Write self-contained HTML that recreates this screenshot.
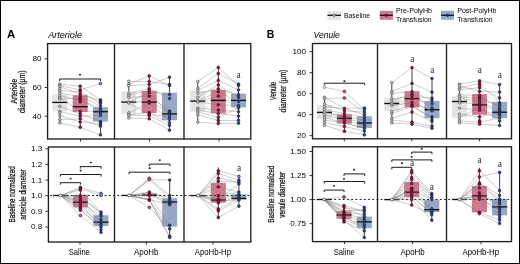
<!DOCTYPE html>
<html><head><meta charset="utf-8"><style>
html,body{margin:0;padding:0;background:#fff;}
body{width:520px;height:264px;overflow:hidden;}
svg{display:block;font-family:"Liberation Sans", sans-serif;will-change:transform;}
</style></head><body>
<svg width="520" height="264" viewBox="0 0 520 264">
<rect x="0" y="0" width="520" height="264" fill="#fff"/>
<line x1="44.6" y1="58.8" x2="47.6" y2="58.8" stroke="#1e1e1e" stroke-width="0.9"/>
<text x="41.6" y="61.25" font-size="8.1" text-anchor="end">80</text>
<line x1="44.6" y1="87.5" x2="47.6" y2="87.5" stroke="#1e1e1e" stroke-width="0.9"/>
<text x="41.6" y="89.95" font-size="8.1" text-anchor="end">60</text>
<line x1="44.6" y1="116.2" x2="47.6" y2="116.2" stroke="#1e1e1e" stroke-width="0.9"/>
<text x="41.6" y="118.65" font-size="8.1" text-anchor="end">40</text>
<line x1="45.4" y1="148.78" x2="48.4" y2="148.78" stroke="#1e1e1e" stroke-width="0.9"/>
<text x="42.3" y="151.23" font-size="8.1" text-anchor="end">1.3</text>
<line x1="45.4" y1="164.42" x2="48.4" y2="164.42" stroke="#1e1e1e" stroke-width="0.9"/>
<text x="42.3" y="166.87" font-size="8.1" text-anchor="end">1.2</text>
<line x1="45.4" y1="180.06" x2="48.4" y2="180.06" stroke="#1e1e1e" stroke-width="0.9"/>
<text x="42.3" y="182.51" font-size="8.1" text-anchor="end">1.1</text>
<line x1="45.4" y1="195.7" x2="48.4" y2="195.7" stroke="#1e1e1e" stroke-width="0.9"/>
<text x="42.3" y="198.15" font-size="8.1" text-anchor="end">1.0</text>
<line x1="45.4" y1="211.34" x2="48.4" y2="211.34" stroke="#1e1e1e" stroke-width="0.9"/>
<text x="42.3" y="213.79" font-size="8.1" text-anchor="end">0.9</text>
<line x1="45.4" y1="226.98" x2="48.4" y2="226.98" stroke="#1e1e1e" stroke-width="0.9"/>
<text x="42.3" y="229.43" font-size="8.1" text-anchor="end">0.8</text>
<line x1="309.5" y1="51.7" x2="312.5" y2="51.7" stroke="#1e1e1e" stroke-width="0.9"/>
<text x="305.9" y="54.45" font-size="8.1" text-anchor="end">100</text>
<line x1="309.5" y1="72.68" x2="312.5" y2="72.68" stroke="#1e1e1e" stroke-width="0.9"/>
<text x="305.9" y="75.43" font-size="8.1" text-anchor="end">80</text>
<line x1="309.5" y1="93.66" x2="312.5" y2="93.66" stroke="#1e1e1e" stroke-width="0.9"/>
<text x="305.9" y="96.41" font-size="8.1" text-anchor="end">60</text>
<line x1="309.5" y1="114.64" x2="312.5" y2="114.64" stroke="#1e1e1e" stroke-width="0.9"/>
<text x="305.9" y="117.39" font-size="8.1" text-anchor="end">40</text>
<line x1="309.5" y1="135.62" x2="312.5" y2="135.62" stroke="#1e1e1e" stroke-width="0.9"/>
<text x="305.9" y="138.37" font-size="8.1" text-anchor="end">20</text>
<line x1="309.5" y1="151.5" x2="312.5" y2="151.5" stroke="#1e1e1e" stroke-width="0.9"/>
<text x="305.9" y="154.25" font-size="8.1" text-anchor="end">1.50</text>
<line x1="309.5" y1="175.55" x2="312.5" y2="175.55" stroke="#1e1e1e" stroke-width="0.9"/>
<text x="305.9" y="178.3" font-size="8.1" text-anchor="end">1.25</text>
<line x1="309.5" y1="199.6" x2="312.5" y2="199.6" stroke="#1e1e1e" stroke-width="0.9"/>
<text x="305.9" y="202.35" font-size="8.1" text-anchor="end">1.00</text>
<line x1="309.5" y1="223.65" x2="312.5" y2="223.65" stroke="#1e1e1e" stroke-width="0.9"/>
<text x="305.9" y="226.4" font-size="8.1" text-anchor="end">0.75</text>
<line x1="80.5" y1="139" x2="80.5" y2="141.6" stroke="#1e1e1e" stroke-width="0.9"/>
<line x1="149.5" y1="139" x2="149.5" y2="141.6" stroke="#1e1e1e" stroke-width="0.9"/>
<line x1="219" y1="139" x2="219" y2="141.6" stroke="#1e1e1e" stroke-width="0.9"/>
<line x1="80" y1="242" x2="80" y2="244.6" stroke="#1e1e1e" stroke-width="0.9"/>
<line x1="146.25" y1="242" x2="146.25" y2="244.6" stroke="#1e1e1e" stroke-width="0.9"/>
<line x1="213" y1="242" x2="213" y2="244.6" stroke="#1e1e1e" stroke-width="0.9"/>
<line x1="344.3" y1="138.8" x2="344.3" y2="141.4" stroke="#1e1e1e" stroke-width="0.9"/>
<line x1="411.8" y1="138.8" x2="411.8" y2="141.4" stroke="#1e1e1e" stroke-width="0.9"/>
<line x1="479.6" y1="138.8" x2="479.6" y2="141.4" stroke="#1e1e1e" stroke-width="0.9"/>
<line x1="344.5" y1="241.6" x2="344.5" y2="244.2" stroke="#1e1e1e" stroke-width="0.9"/>
<line x1="412.5" y1="241.6" x2="412.5" y2="244.2" stroke="#1e1e1e" stroke-width="0.9"/>
<line x1="481" y1="241.6" x2="481" y2="244.2" stroke="#1e1e1e" stroke-width="0.9"/>
<text x="79.3" y="255.4" font-size="8.4" text-anchor="middle" textLength="21" lengthAdjust="spacingAndGlyphs">Saline</text>
<text x="146.2" y="255.4" font-size="8.4" text-anchor="middle" textLength="24.4" lengthAdjust="spacingAndGlyphs">ApoHb</text>
<text x="212.9" y="255.4" font-size="8.4" text-anchor="middle" textLength="36.4" lengthAdjust="spacingAndGlyphs">ApoHb-Hp</text>
<text x="344.3" y="255.4" font-size="8.4" text-anchor="middle" textLength="21" lengthAdjust="spacingAndGlyphs">Saline</text>
<text x="412.6" y="255.4" font-size="8.4" text-anchor="middle" textLength="24.3" lengthAdjust="spacingAndGlyphs">ApoHb</text>
<text x="480.8" y="255.4" font-size="8.4" text-anchor="middle" textLength="36.5" lengthAdjust="spacingAndGlyphs">ApoHb-Hp</text>
<text x="7" y="38" font-size="11.5" font-weight="bold" textLength="8.2" lengthAdjust="spacingAndGlyphs">A</text>
<text x="266.7" y="37.8" font-size="11.5" font-weight="bold" textLength="7.6" lengthAdjust="spacingAndGlyphs">B</text>
<text x="48.2" y="38.4" font-size="9.4" font-style="italic" textLength="33.8" lengthAdjust="spacingAndGlyphs">Arteriole</text>
<text x="313.5" y="38.2" font-size="9.2" font-style="italic" textLength="26.3" lengthAdjust="spacingAndGlyphs">Venule</text>
<text x="16.9" y="91.1" font-size="8.8" text-anchor="middle" textLength="24.6" lengthAdjust="spacingAndGlyphs" transform="rotate(-90 16.9 91.1)" stroke="#1e1e1e" stroke-width="0.25">Arteriole</text>
<text x="25.3" y="91.8" font-size="8.8" text-anchor="middle" textLength="42.6" lengthAdjust="spacingAndGlyphs" transform="rotate(-90 25.3 91.8)" stroke="#1e1e1e" stroke-width="0.25">diameter (µm)</text>
<text x="14.6" y="194.4" font-size="8.8" text-anchor="middle" textLength="56" lengthAdjust="spacingAndGlyphs" transform="rotate(-90 14.6 194.4)" stroke="#1e1e1e" stroke-width="0.25">Baseline normalized</text>
<text x="25.6" y="194.5" font-size="8.8" text-anchor="middle" textLength="50.3" lengthAdjust="spacingAndGlyphs" transform="rotate(-90 25.6 194.5)" stroke="#1e1e1e" stroke-width="0.25">arteriole diameter</text>
<text x="276.5" y="91.1" font-size="8.8" text-anchor="middle" textLength="18.4" lengthAdjust="spacingAndGlyphs" transform="rotate(-90 276.5 91.1)" stroke="#1e1e1e" stroke-width="0.25">Venule</text>
<text x="286.4" y="91" font-size="8.8" text-anchor="middle" textLength="42.8" lengthAdjust="spacingAndGlyphs" transform="rotate(-90 286.4 91)" stroke="#1e1e1e" stroke-width="0.25">diameter (µm)</text>
<text x="274.4" y="194.25" font-size="8.8" text-anchor="middle" textLength="56.8" lengthAdjust="spacingAndGlyphs" transform="rotate(-90 274.4 194.25)" stroke="#1e1e1e" stroke-width="0.25">Baseline normalized</text>
<text x="285" y="194.75" font-size="8.8" text-anchor="middle" textLength="45.8" lengthAdjust="spacingAndGlyphs" transform="rotate(-90 285 194.75)" stroke="#1e1e1e" stroke-width="0.25">venule diameter</text>
<rect x="327.5" y="11" width="13.5" height="8.8" fill="#e4e4e4"/>
<line x1="327.5" y1="15.3" x2="341" y2="15.3" stroke="#111" stroke-width="1.3"/>
<circle cx="334.2" cy="15.3" r="1.3" fill="#9a9a9a" stroke="#555" stroke-width="0.5"/>
<text x="344" y="17.5" font-size="7.2" textLength="26" lengthAdjust="spacingAndGlyphs">Baseline</text>
<rect x="379.8" y="10.8" width="13.1" height="9" fill="#cd7990"/>
<line x1="379.8" y1="15.3" x2="392.9" y2="15.3" stroke="#111" stroke-width="1.3"/>
<circle cx="386.3" cy="15.3" r="1.3" fill="#8a0f33" stroke="#3a0010" stroke-width="0.5"/>
<text x="395.9" y="13.4" font-size="7.2" textLength="36" lengthAdjust="spacingAndGlyphs">Pre-PolyHb</text>
<text x="395.9" y="22.2" font-size="7.2" textLength="35.7" lengthAdjust="spacingAndGlyphs">Transfusion</text>
<rect x="441" y="10.8" width="13" height="9" fill="#98a8c4"/>
<line x1="441" y1="15.3" x2="454" y2="15.3" stroke="#111" stroke-width="1.3"/>
<circle cx="447.5" cy="15.3" r="1.3" fill="#1c3a6e" stroke="#0a1a3a" stroke-width="0.5"/>
<text x="457.2" y="13.4" font-size="7.2" textLength="39.3" lengthAdjust="spacingAndGlyphs">Post-PolyHb</text>
<text x="457.2" y="22.2" font-size="7.2" textLength="35.3" lengthAdjust="spacingAndGlyphs">Transfusion</text>
<rect x="52.3" y="94.2" width="15" height="17.3" fill="#e4e4e4"/>
<rect x="72.7" y="95.3" width="15" height="16.6" fill="#cd7990"/>
<rect x="93" y="107.2" width="15" height="14.4" fill="#98a8c4"/>
<rect x="121.3" y="91.4" width="15" height="22.5" fill="#e4e4e4"/>
<rect x="141.7" y="91" width="15" height="22" fill="#cd7990"/>
<rect x="162" y="92.7" width="15" height="27.5" fill="#98a8c4"/>
<rect x="190.3" y="91" width="15" height="20.5" fill="#e4e4e4"/>
<rect x="210.8" y="90" width="15" height="23.4" fill="#cd7990"/>
<rect x="231" y="93.7" width="15" height="13.8" fill="#98a8c4"/>
<rect x="317" y="105.2" width="15" height="13.7" fill="#e4e4e4"/>
<rect x="336.9" y="114.2" width="15" height="9.4" fill="#cd7990"/>
<rect x="356.9" y="116.2" width="15" height="11.9" fill="#98a8c4"/>
<rect x="384.3" y="98" width="15" height="12.8" fill="#e4e4e4"/>
<rect x="404.5" y="91.2" width="15" height="16.2" fill="#cd7990"/>
<rect x="424.5" y="101" width="15" height="17.2" fill="#98a8c4"/>
<rect x="452" y="95.7" width="15" height="21.8" fill="#e4e4e4"/>
<rect x="472.1" y="94.1" width="15" height="20.7" fill="#cd7990"/>
<rect x="492.1" y="101.9" width="15" height="16.2" fill="#98a8c4"/>
<rect x="72.9" y="194.8" width="15" height="12.6" fill="#cd7990"/>
<rect x="93.5" y="215.2" width="15" height="10.8" fill="#98a8c4"/>
<rect x="141.8" y="193.5" width="15" height="2.7" fill="#cd7990"/>
<rect x="162.2" y="198.2" width="15" height="28.4" fill="#98a8c4"/>
<rect x="210.8" y="182.9" width="15" height="19.9" fill="#cd7990"/>
<rect x="231.4" y="194.3" width="15" height="5.4" fill="#98a8c4"/>
<rect x="336.5" y="211.2" width="15" height="7.6" fill="#cd7990"/>
<rect x="356.8" y="216.6" width="15" height="11.6" fill="#98a8c4"/>
<rect x="404.2" y="182.1" width="15" height="14.8" fill="#cd7990"/>
<rect x="424.3" y="199.7" width="15" height="12.5" fill="#98a8c4"/>
<rect x="471.9" y="186" width="15" height="26.3" fill="#cd7990"/>
<rect x="492.1" y="198.8" width="15" height="16.6" fill="#98a8c4"/>
<line x1="50" y1="195.5" x2="250.3" y2="195.5" stroke="#1a1a1a" stroke-width="1" stroke-dasharray="2 2.2"/>
<line x1="313.25" y1="199.5" x2="511" y2="199.5" stroke="#1a1a1a" stroke-width="1" stroke-dasharray="1.8 2.42"/>
<line x1="59.8" y1="84.1" x2="59.8" y2="94.2" stroke="#2a2a2a" stroke-width="0.9"/>
<line x1="59.8" y1="111.5" x2="59.8" y2="123" stroke="#2a2a2a" stroke-width="0.9"/>
<line x1="80.2" y1="86.2" x2="80.2" y2="95.3" stroke="#2a2a2a" stroke-width="0.9"/>
<line x1="80.2" y1="111.9" x2="80.2" y2="127.6" stroke="#2a2a2a" stroke-width="0.9"/>
<line x1="100.5" y1="99.9" x2="100.5" y2="107.2" stroke="#2a2a2a" stroke-width="0.9"/>
<line x1="100.5" y1="121.6" x2="100.5" y2="134.9" stroke="#2a2a2a" stroke-width="0.9"/>
<line x1="52.3" y1="102.4" x2="67.3" y2="102.4" stroke="#111" stroke-width="1.35"/>
<line x1="72.7" y1="106.7" x2="87.7" y2="106.7" stroke="#111" stroke-width="1.35"/>
<line x1="93" y1="111.7" x2="108" y2="111.7" stroke="#111" stroke-width="1.35"/>
<polyline points="59.8,84.1 80.2,86.2 100.5,99.9" fill="none" stroke="#7c7c7c" stroke-width="0.45" opacity="0.85"/>
<polyline points="59.8,85.6 80.2,89.9 100.5,83.5" fill="none" stroke="#7c7c7c" stroke-width="0.45" opacity="0.85"/>
<polyline points="59.8,86.5 80.2,94.2 100.5,100.8" fill="none" stroke="#7c7c7c" stroke-width="0.45" opacity="0.85"/>
<polyline points="59.8,90.9 80.2,91.5 100.5,103.4" fill="none" stroke="#7c7c7c" stroke-width="0.45" opacity="0.85"/>
<polyline points="59.8,93.1 80.2,96.2 100.5,106.1" fill="none" stroke="#7c7c7c" stroke-width="0.45" opacity="0.85"/>
<polyline points="59.8,95.6 80.2,99.9 100.5,108.8" fill="none" stroke="#7c7c7c" stroke-width="0.45" opacity="0.85"/>
<polyline points="59.8,97.6 80.2,111.5 100.5,111" fill="none" stroke="#7c7c7c" stroke-width="0.45" opacity="0.85"/>
<polyline points="59.8,98.9 80.2,98.3 100.5,112.8" fill="none" stroke="#7c7c7c" stroke-width="0.45" opacity="0.85"/>
<polyline points="59.8,106.3 80.2,113.9 100.5,121.6" fill="none" stroke="#7c7c7c" stroke-width="0.45" opacity="0.85"/>
<polyline points="59.8,111.5 80.2,116.2 100.5,115.5" fill="none" stroke="#7c7c7c" stroke-width="0.45" opacity="0.85"/>
<polyline points="59.8,115.5 80.2,122 100.5,124.2" fill="none" stroke="#7c7c7c" stroke-width="0.45" opacity="0.85"/>
<polyline points="59.8,119.5 80.2,118.9 100.5,126.2" fill="none" stroke="#7c7c7c" stroke-width="0.45" opacity="0.85"/>
<polyline points="59.8,122.9 80.2,127.3 100.5,134.9" fill="none" stroke="#7c7c7c" stroke-width="0.45" opacity="0.85"/>
<circle cx="59.8" cy="84.1" r="1.35" fill="#c4c4c4" stroke="#404040" stroke-width="0.55"/>
<circle cx="59.8" cy="85.6" r="1.35" fill="#c4c4c4" stroke="#404040" stroke-width="0.55"/>
<circle cx="59.8" cy="86.5" r="1.35" fill="#c4c4c4" stroke="#404040" stroke-width="0.55"/>
<circle cx="59.8" cy="88.6" r="1.35" fill="#c4c4c4" stroke="#404040" stroke-width="0.55"/>
<circle cx="59.8" cy="90.9" r="1.35" fill="#c4c4c4" stroke="#404040" stroke-width="0.55"/>
<circle cx="59.8" cy="93.1" r="1.35" fill="#c4c4c4" stroke="#404040" stroke-width="0.55"/>
<circle cx="59.8" cy="95.6" r="1.35" fill="#c4c4c4" stroke="#404040" stroke-width="0.55"/>
<circle cx="59.8" cy="97.6" r="1.35" fill="#c4c4c4" stroke="#404040" stroke-width="0.55"/>
<circle cx="59.8" cy="98.9" r="1.35" fill="#c4c4c4" stroke="#404040" stroke-width="0.55"/>
<circle cx="59.8" cy="106.3" r="1.35" fill="#c4c4c4" stroke="#404040" stroke-width="0.55"/>
<circle cx="59.8" cy="111.5" r="1.35" fill="#c4c4c4" stroke="#404040" stroke-width="0.55"/>
<circle cx="59.8" cy="112.5" r="1.35" fill="#c4c4c4" stroke="#404040" stroke-width="0.55"/>
<circle cx="59.8" cy="115.5" r="1.35" fill="#c4c4c4" stroke="#404040" stroke-width="0.55"/>
<circle cx="59.8" cy="119.5" r="1.35" fill="#c4c4c4" stroke="#404040" stroke-width="0.55"/>
<circle cx="59.8" cy="122.9" r="1.35" fill="#c4c4c4" stroke="#404040" stroke-width="0.55"/>
<circle cx="80.2" cy="86.2" r="1.35" fill="#a8103a" stroke="#2e0410" stroke-width="0.6"/>
<circle cx="80.2" cy="89.9" r="1.35" fill="#a8103a" stroke="#2e0410" stroke-width="0.6"/>
<circle cx="80.2" cy="91.5" r="1.35" fill="#a8103a" stroke="#2e0410" stroke-width="0.6"/>
<circle cx="80.2" cy="94.2" r="1.35" fill="#a8103a" stroke="#2e0410" stroke-width="0.6"/>
<circle cx="80.2" cy="96.2" r="1.35" fill="#a8103a" stroke="#2e0410" stroke-width="0.6"/>
<circle cx="80.2" cy="98.3" r="1.35" fill="#a8103a" stroke="#2e0410" stroke-width="0.6"/>
<circle cx="80.2" cy="99.9" r="1.35" fill="#a8103a" stroke="#2e0410" stroke-width="0.6"/>
<circle cx="80.2" cy="101.8" r="1.35" fill="#a8103a" stroke="#2e0410" stroke-width="0.6"/>
<circle cx="80.2" cy="111.5" r="1.35" fill="#a8103a" stroke="#2e0410" stroke-width="0.6"/>
<circle cx="80.2" cy="113.9" r="1.35" fill="#a8103a" stroke="#2e0410" stroke-width="0.6"/>
<circle cx="80.2" cy="116.2" r="1.35" fill="#a8103a" stroke="#2e0410" stroke-width="0.6"/>
<circle cx="80.2" cy="118.9" r="1.35" fill="#a8103a" stroke="#2e0410" stroke-width="0.6"/>
<circle cx="80.2" cy="122" r="1.35" fill="#a8103a" stroke="#2e0410" stroke-width="0.6"/>
<circle cx="80.2" cy="127.3" r="1.35" fill="#a8103a" stroke="#2e0410" stroke-width="0.6"/>
<circle cx="100.5" cy="99.9" r="1.35" fill="#2c4a85" stroke="#0e1830" stroke-width="0.6"/>
<circle cx="100.5" cy="100.8" r="1.35" fill="#2c4a85" stroke="#0e1830" stroke-width="0.6"/>
<circle cx="100.5" cy="102.3" r="1.35" fill="#2c4a85" stroke="#0e1830" stroke-width="0.6"/>
<circle cx="100.5" cy="103.4" r="1.35" fill="#2c4a85" stroke="#0e1830" stroke-width="0.6"/>
<circle cx="100.5" cy="106.1" r="1.35" fill="#2c4a85" stroke="#0e1830" stroke-width="0.6"/>
<circle cx="100.5" cy="108.8" r="1.35" fill="#2c4a85" stroke="#0e1830" stroke-width="0.6"/>
<circle cx="100.5" cy="111" r="1.35" fill="#2c4a85" stroke="#0e1830" stroke-width="0.6"/>
<circle cx="100.5" cy="112.8" r="1.35" fill="#2c4a85" stroke="#0e1830" stroke-width="0.6"/>
<circle cx="100.5" cy="115.5" r="1.35" fill="#2c4a85" stroke="#0e1830" stroke-width="0.6"/>
<circle cx="100.5" cy="121.6" r="1.35" fill="#2c4a85" stroke="#0e1830" stroke-width="0.6"/>
<circle cx="100.5" cy="122.6" r="1.35" fill="#2c4a85" stroke="#0e1830" stroke-width="0.6"/>
<circle cx="100.5" cy="124.2" r="1.35" fill="#2c4a85" stroke="#0e1830" stroke-width="0.6"/>
<circle cx="100.5" cy="126.2" r="1.35" fill="#2c4a85" stroke="#0e1830" stroke-width="0.6"/>
<circle cx="100.5" cy="134.9" r="1.35" fill="#2c4a85" stroke="#0e1830" stroke-width="0.6"/>
<circle cx="100.5" cy="83.5" r="1.4" fill="#8298c6" stroke="#1a2a55" stroke-width="0.7"/>
<line x1="128.8" y1="81.3" x2="128.8" y2="91.4" stroke="#2a2a2a" stroke-width="0.9"/>
<line x1="128.8" y1="113.9" x2="128.8" y2="117.8" stroke="#2a2a2a" stroke-width="0.9"/>
<line x1="149.2" y1="75.9" x2="149.2" y2="91" stroke="#2a2a2a" stroke-width="0.9"/>
<line x1="149.2" y1="113" x2="149.2" y2="118.9" stroke="#2a2a2a" stroke-width="0.9"/>
<line x1="169.5" y1="77.2" x2="169.5" y2="92.7" stroke="#2a2a2a" stroke-width="0.9"/>
<line x1="169.5" y1="120.2" x2="169.5" y2="130.2" stroke="#2a2a2a" stroke-width="0.9"/>
<line x1="121.3" y1="102.1" x2="136.3" y2="102.1" stroke="#111" stroke-width="1.35"/>
<line x1="141.7" y1="102.1" x2="156.7" y2="102.1" stroke="#111" stroke-width="1.35"/>
<line x1="162" y1="113.9" x2="177" y2="113.9" stroke="#111" stroke-width="1.35"/>
<polyline points="128.8,81.3 149.2,81.5 169.5,84.6" fill="none" stroke="#7c7c7c" stroke-width="0.45" opacity="0.85"/>
<polyline points="128.8,84.2 149.2,75.9 169.5,85.6" fill="none" stroke="#7c7c7c" stroke-width="0.45" opacity="0.85"/>
<polyline points="128.8,85.6 149.2,84.6 169.5,77.2" fill="none" stroke="#7c7c7c" stroke-width="0.45" opacity="0.85"/>
<polyline points="128.8,93.4 149.2,88.7 169.5,98.5" fill="none" stroke="#7c7c7c" stroke-width="0.45" opacity="0.85"/>
<polyline points="128.8,95.4 149.2,90.4 169.5,94.5" fill="none" stroke="#7c7c7c" stroke-width="0.45" opacity="0.85"/>
<polyline points="128.8,97.4 149.2,96.1 169.5,111.1" fill="none" stroke="#7c7c7c" stroke-width="0.45" opacity="0.85"/>
<polyline points="128.8,102.1 149.2,92.7 169.5,114.1" fill="none" stroke="#7c7c7c" stroke-width="0.45" opacity="0.85"/>
<polyline points="128.8,102.1 149.2,101.5 169.5,112.5" fill="none" stroke="#7c7c7c" stroke-width="0.45" opacity="0.85"/>
<polyline points="128.8,103 149.2,114.3 169.5,116.8" fill="none" stroke="#7c7c7c" stroke-width="0.45" opacity="0.85"/>
<polyline points="128.8,112.9 149.2,103.1 169.5,119.5" fill="none" stroke="#7c7c7c" stroke-width="0.45" opacity="0.85"/>
<polyline points="128.8,114.9 149.2,112.7 169.5,122.8" fill="none" stroke="#7c7c7c" stroke-width="0.45" opacity="0.85"/>
<polyline points="128.8,115.2 149.2,115.7 169.5,125.5" fill="none" stroke="#7c7c7c" stroke-width="0.45" opacity="0.85"/>
<polyline points="128.8,117.8 149.2,118.8 169.5,130.2" fill="none" stroke="#7c7c7c" stroke-width="0.45" opacity="0.85"/>
<circle cx="128.8" cy="81.3" r="1.35" fill="#c4c4c4" stroke="#404040" stroke-width="0.55"/>
<circle cx="128.8" cy="84.2" r="1.35" fill="#c4c4c4" stroke="#404040" stroke-width="0.55"/>
<circle cx="128.8" cy="85.6" r="1.35" fill="#c4c4c4" stroke="#404040" stroke-width="0.55"/>
<circle cx="128.8" cy="93.4" r="1.35" fill="#c4c4c4" stroke="#404040" stroke-width="0.55"/>
<circle cx="128.8" cy="95.4" r="1.35" fill="#c4c4c4" stroke="#404040" stroke-width="0.55"/>
<circle cx="128.8" cy="97.4" r="1.35" fill="#c4c4c4" stroke="#404040" stroke-width="0.55"/>
<circle cx="128.8" cy="102.1" r="1.35" fill="#c4c4c4" stroke="#404040" stroke-width="0.55"/>
<circle cx="128.8" cy="103" r="1.35" fill="#c4c4c4" stroke="#404040" stroke-width="0.55"/>
<circle cx="128.8" cy="112.9" r="1.35" fill="#c4c4c4" stroke="#404040" stroke-width="0.55"/>
<circle cx="128.8" cy="114.9" r="1.35" fill="#c4c4c4" stroke="#404040" stroke-width="0.55"/>
<circle cx="128.8" cy="115.2" r="1.35" fill="#c4c4c4" stroke="#404040" stroke-width="0.55"/>
<circle cx="128.8" cy="117.8" r="1.35" fill="#c4c4c4" stroke="#404040" stroke-width="0.55"/>
<circle cx="149.2" cy="75.9" r="1.35" fill="#a8103a" stroke="#2e0410" stroke-width="0.6"/>
<circle cx="149.2" cy="81.5" r="1.35" fill="#a8103a" stroke="#2e0410" stroke-width="0.6"/>
<circle cx="149.2" cy="84.6" r="1.35" fill="#a8103a" stroke="#2e0410" stroke-width="0.6"/>
<circle cx="149.2" cy="88.7" r="1.35" fill="#a8103a" stroke="#2e0410" stroke-width="0.6"/>
<circle cx="149.2" cy="90.4" r="1.35" fill="#a8103a" stroke="#2e0410" stroke-width="0.6"/>
<circle cx="149.2" cy="92.7" r="1.35" fill="#a8103a" stroke="#2e0410" stroke-width="0.6"/>
<circle cx="149.2" cy="96.1" r="1.35" fill="#a8103a" stroke="#2e0410" stroke-width="0.6"/>
<circle cx="149.2" cy="101.5" r="1.35" fill="#a8103a" stroke="#2e0410" stroke-width="0.6"/>
<circle cx="149.2" cy="103.1" r="1.35" fill="#a8103a" stroke="#2e0410" stroke-width="0.6"/>
<circle cx="149.2" cy="112.7" r="1.35" fill="#a8103a" stroke="#2e0410" stroke-width="0.6"/>
<circle cx="149.2" cy="114.3" r="1.35" fill="#a8103a" stroke="#2e0410" stroke-width="0.6"/>
<circle cx="149.2" cy="115.7" r="1.35" fill="#a8103a" stroke="#2e0410" stroke-width="0.6"/>
<circle cx="149.2" cy="118.8" r="1.35" fill="#a8103a" stroke="#2e0410" stroke-width="0.6"/>
<circle cx="169.5" cy="77.2" r="1.35" fill="#2c4a85" stroke="#0e1830" stroke-width="0.6"/>
<circle cx="169.5" cy="84.6" r="1.35" fill="#2c4a85" stroke="#0e1830" stroke-width="0.6"/>
<circle cx="169.5" cy="85.6" r="1.35" fill="#2c4a85" stroke="#0e1830" stroke-width="0.6"/>
<circle cx="169.5" cy="94.5" r="1.35" fill="#2c4a85" stroke="#0e1830" stroke-width="0.6"/>
<circle cx="169.5" cy="98.5" r="1.35" fill="#2c4a85" stroke="#0e1830" stroke-width="0.6"/>
<circle cx="169.5" cy="111.1" r="1.35" fill="#2c4a85" stroke="#0e1830" stroke-width="0.6"/>
<circle cx="169.5" cy="112.5" r="1.35" fill="#2c4a85" stroke="#0e1830" stroke-width="0.6"/>
<circle cx="169.5" cy="114.1" r="1.35" fill="#2c4a85" stroke="#0e1830" stroke-width="0.6"/>
<circle cx="169.5" cy="116.8" r="1.35" fill="#2c4a85" stroke="#0e1830" stroke-width="0.6"/>
<circle cx="169.5" cy="119.5" r="1.35" fill="#2c4a85" stroke="#0e1830" stroke-width="0.6"/>
<circle cx="169.5" cy="122.8" r="1.35" fill="#2c4a85" stroke="#0e1830" stroke-width="0.6"/>
<circle cx="169.5" cy="125.5" r="1.35" fill="#2c4a85" stroke="#0e1830" stroke-width="0.6"/>
<circle cx="169.5" cy="130.2" r="1.35" fill="#2c4a85" stroke="#0e1830" stroke-width="0.6"/>
<line x1="197.8" y1="81.5" x2="197.8" y2="91" stroke="#2a2a2a" stroke-width="0.9"/>
<line x1="197.8" y1="111.5" x2="197.8" y2="122.2" stroke="#2a2a2a" stroke-width="0.9"/>
<line x1="218.3" y1="67.4" x2="218.3" y2="90" stroke="#2a2a2a" stroke-width="0.9"/>
<line x1="218.3" y1="113.4" x2="218.3" y2="123.5" stroke="#2a2a2a" stroke-width="0.9"/>
<line x1="238.5" y1="84" x2="238.5" y2="93.7" stroke="#2a2a2a" stroke-width="0.9"/>
<line x1="238.5" y1="107.5" x2="238.5" y2="123.2" stroke="#2a2a2a" stroke-width="0.9"/>
<line x1="190.3" y1="101.1" x2="205.3" y2="101.1" stroke="#111" stroke-width="1.35"/>
<line x1="210.8" y1="100.4" x2="225.8" y2="100.4" stroke="#111" stroke-width="1.35"/>
<line x1="231" y1="100.4" x2="246" y2="100.4" stroke="#111" stroke-width="1.35"/>
<polyline points="197.8,81.5 218.3,67.4 238.5,85.6" fill="none" stroke="#7c7c7c" stroke-width="0.45" opacity="0.85"/>
<polyline points="197.8,88.3 218.3,73.5 238.5,84" fill="none" stroke="#7c7c7c" stroke-width="0.45" opacity="0.85"/>
<polyline points="197.8,90.3 218.3,80.5 238.5,90" fill="none" stroke="#7c7c7c" stroke-width="0.45" opacity="0.85"/>
<polyline points="197.8,93.4 218.3,88.9 238.5,94.7" fill="none" stroke="#7c7c7c" stroke-width="0.45" opacity="0.85"/>
<polyline points="197.8,97.4 218.3,84.9 238.5,97.4" fill="none" stroke="#7c7c7c" stroke-width="0.45" opacity="0.85"/>
<polyline points="197.8,100.8 218.3,91.8 238.5,101.5" fill="none" stroke="#7c7c7c" stroke-width="0.45" opacity="0.85"/>
<polyline points="197.8,102.1 218.3,104.8 238.5,105.5" fill="none" stroke="#7c7c7c" stroke-width="0.45" opacity="0.85"/>
<polyline points="197.8,102.1 218.3,96.1 238.5,105.5" fill="none" stroke="#7c7c7c" stroke-width="0.45" opacity="0.85"/>
<polyline points="197.8,108.1 218.3,110.1 238.5,111.7" fill="none" stroke="#7c7c7c" stroke-width="0.45" opacity="0.85"/>
<polyline points="197.8,110.1 218.3,113.6 238.5,116.1" fill="none" stroke="#7c7c7c" stroke-width="0.45" opacity="0.85"/>
<polyline points="197.8,112.1 218.3,117.4 238.5,107.9" fill="none" stroke="#7c7c7c" stroke-width="0.45" opacity="0.85"/>
<polyline points="197.8,114.5 218.3,120.5 238.5,120.3" fill="none" stroke="#7c7c7c" stroke-width="0.45" opacity="0.85"/>
<polyline points="197.8,122.2 218.3,123.5 238.5,123.2" fill="none" stroke="#7c7c7c" stroke-width="0.45" opacity="0.85"/>
<circle cx="197.8" cy="81.5" r="1.35" fill="#c4c4c4" stroke="#404040" stroke-width="0.55"/>
<circle cx="197.8" cy="88.3" r="1.35" fill="#c4c4c4" stroke="#404040" stroke-width="0.55"/>
<circle cx="197.8" cy="90.3" r="1.35" fill="#c4c4c4" stroke="#404040" stroke-width="0.55"/>
<circle cx="197.8" cy="93.4" r="1.35" fill="#c4c4c4" stroke="#404040" stroke-width="0.55"/>
<circle cx="197.8" cy="97.4" r="1.35" fill="#c4c4c4" stroke="#404040" stroke-width="0.55"/>
<circle cx="197.8" cy="100.8" r="1.35" fill="#c4c4c4" stroke="#404040" stroke-width="0.55"/>
<circle cx="197.8" cy="102.1" r="1.35" fill="#c4c4c4" stroke="#404040" stroke-width="0.55"/>
<circle cx="197.8" cy="108.1" r="1.35" fill="#c4c4c4" stroke="#404040" stroke-width="0.55"/>
<circle cx="197.8" cy="110.1" r="1.35" fill="#c4c4c4" stroke="#404040" stroke-width="0.55"/>
<circle cx="197.8" cy="112.1" r="1.35" fill="#c4c4c4" stroke="#404040" stroke-width="0.55"/>
<circle cx="197.8" cy="114.5" r="1.35" fill="#c4c4c4" stroke="#404040" stroke-width="0.55"/>
<circle cx="197.8" cy="122.2" r="1.35" fill="#c4c4c4" stroke="#404040" stroke-width="0.55"/>
<circle cx="218.3" cy="67.4" r="1.35" fill="#a8103a" stroke="#2e0410" stroke-width="0.6"/>
<circle cx="218.3" cy="73.5" r="1.35" fill="#a8103a" stroke="#2e0410" stroke-width="0.6"/>
<circle cx="218.3" cy="80.5" r="1.35" fill="#a8103a" stroke="#2e0410" stroke-width="0.6"/>
<circle cx="218.3" cy="84.9" r="1.35" fill="#a8103a" stroke="#2e0410" stroke-width="0.6"/>
<circle cx="218.3" cy="88.9" r="1.35" fill="#a8103a" stroke="#2e0410" stroke-width="0.6"/>
<circle cx="218.3" cy="91.8" r="1.35" fill="#a8103a" stroke="#2e0410" stroke-width="0.6"/>
<circle cx="218.3" cy="96.1" r="1.35" fill="#a8103a" stroke="#2e0410" stroke-width="0.6"/>
<circle cx="218.3" cy="104.8" r="1.35" fill="#a8103a" stroke="#2e0410" stroke-width="0.6"/>
<circle cx="218.3" cy="110.1" r="1.35" fill="#a8103a" stroke="#2e0410" stroke-width="0.6"/>
<circle cx="218.3" cy="113.6" r="1.35" fill="#a8103a" stroke="#2e0410" stroke-width="0.6"/>
<circle cx="218.3" cy="117.4" r="1.35" fill="#a8103a" stroke="#2e0410" stroke-width="0.6"/>
<circle cx="218.3" cy="120.5" r="1.35" fill="#a8103a" stroke="#2e0410" stroke-width="0.6"/>
<circle cx="218.3" cy="123.5" r="1.35" fill="#a8103a" stroke="#2e0410" stroke-width="0.6"/>
<circle cx="238.5" cy="84" r="1.35" fill="#2c4a85" stroke="#0e1830" stroke-width="0.6"/>
<circle cx="238.5" cy="85.6" r="1.35" fill="#2c4a85" stroke="#0e1830" stroke-width="0.6"/>
<circle cx="238.5" cy="90" r="1.35" fill="#2c4a85" stroke="#0e1830" stroke-width="0.6"/>
<circle cx="238.5" cy="94.7" r="1.35" fill="#2c4a85" stroke="#0e1830" stroke-width="0.6"/>
<circle cx="238.5" cy="97.4" r="1.35" fill="#2c4a85" stroke="#0e1830" stroke-width="0.6"/>
<circle cx="238.5" cy="101.5" r="1.35" fill="#2c4a85" stroke="#0e1830" stroke-width="0.6"/>
<circle cx="238.5" cy="105.5" r="1.35" fill="#2c4a85" stroke="#0e1830" stroke-width="0.6"/>
<circle cx="238.5" cy="107.9" r="1.35" fill="#2c4a85" stroke="#0e1830" stroke-width="0.6"/>
<circle cx="238.5" cy="111.7" r="1.35" fill="#2c4a85" stroke="#0e1830" stroke-width="0.6"/>
<circle cx="238.5" cy="116.1" r="1.35" fill="#2c4a85" stroke="#0e1830" stroke-width="0.6"/>
<circle cx="238.5" cy="120.3" r="1.35" fill="#2c4a85" stroke="#0e1830" stroke-width="0.6"/>
<circle cx="238.5" cy="123.2" r="1.35" fill="#2c4a85" stroke="#0e1830" stroke-width="0.6"/>
<line x1="324.5" y1="97.3" x2="324.5" y2="105.2" stroke="#2a2a2a" stroke-width="0.9"/>
<line x1="324.5" y1="118.9" x2="324.5" y2="125.5" stroke="#2a2a2a" stroke-width="0.9"/>
<line x1="344.4" y1="108.4" x2="344.4" y2="114.2" stroke="#2a2a2a" stroke-width="0.9"/>
<line x1="344.4" y1="123.6" x2="344.4" y2="131.3" stroke="#2a2a2a" stroke-width="0.9"/>
<line x1="364.4" y1="108" x2="364.4" y2="116.2" stroke="#2a2a2a" stroke-width="0.9"/>
<line x1="364.4" y1="128.1" x2="364.4" y2="134.9" stroke="#2a2a2a" stroke-width="0.9"/>
<line x1="317" y1="112.4" x2="332" y2="112.4" stroke="#111" stroke-width="1.35"/>
<line x1="336.9" y1="118.3" x2="351.9" y2="118.3" stroke="#111" stroke-width="1.35"/>
<line x1="356.9" y1="123" x2="371.9" y2="123" stroke="#111" stroke-width="1.35"/>
<polyline points="324.5,87.2 344.4,91.5 364.4,109.5" fill="none" stroke="#7c7c7c" stroke-width="0.45" opacity="0.85"/>
<polyline points="324.5,97.3 344.4,108.4 364.4,108" fill="none" stroke="#7c7c7c" stroke-width="0.45" opacity="0.85"/>
<polyline points="324.5,98.5 344.4,98 364.4,112.2" fill="none" stroke="#7c7c7c" stroke-width="0.45" opacity="0.85"/>
<polyline points="324.5,104.1 344.4,110.8 364.4,112.2" fill="none" stroke="#7c7c7c" stroke-width="0.45" opacity="0.85"/>
<polyline points="324.5,106.8 344.4,108.4 364.4,114.8" fill="none" stroke="#7c7c7c" stroke-width="0.45" opacity="0.85"/>
<polyline points="324.5,109.5 344.4,113.5 364.4,117.5" fill="none" stroke="#7c7c7c" stroke-width="0.45" opacity="0.85"/>
<polyline points="324.5,112.2 344.4,116.2 364.4,120.2" fill="none" stroke="#7c7c7c" stroke-width="0.45" opacity="0.85"/>
<polyline points="324.5,112.2 344.4,118.2 364.4,122.9" fill="none" stroke="#7c7c7c" stroke-width="0.45" opacity="0.85"/>
<polyline points="324.5,114.8 344.4,120.2 364.4,125.6" fill="none" stroke="#7c7c7c" stroke-width="0.45" opacity="0.85"/>
<polyline points="324.5,117.5 344.4,122.9 364.4,128.3" fill="none" stroke="#7c7c7c" stroke-width="0.45" opacity="0.85"/>
<polyline points="324.5,120 344.4,122.9 364.4,128.3" fill="none" stroke="#7c7c7c" stroke-width="0.45" opacity="0.85"/>
<polyline points="324.5,122.5 344.4,126.5 364.4,131" fill="none" stroke="#7c7c7c" stroke-width="0.45" opacity="0.85"/>
<polyline points="324.5,125.5 344.4,131.3 364.4,134.9" fill="none" stroke="#7c7c7c" stroke-width="0.45" opacity="0.85"/>
<circle cx="324.5" cy="97.3" r="1.35" fill="#c4c4c4" stroke="#404040" stroke-width="0.55"/>
<circle cx="324.5" cy="98.5" r="1.35" fill="#c4c4c4" stroke="#404040" stroke-width="0.55"/>
<circle cx="324.5" cy="104.1" r="1.35" fill="#c4c4c4" stroke="#404040" stroke-width="0.55"/>
<circle cx="324.5" cy="106.8" r="1.35" fill="#c4c4c4" stroke="#404040" stroke-width="0.55"/>
<circle cx="324.5" cy="109.5" r="1.35" fill="#c4c4c4" stroke="#404040" stroke-width="0.55"/>
<circle cx="324.5" cy="112.2" r="1.35" fill="#c4c4c4" stroke="#404040" stroke-width="0.55"/>
<circle cx="324.5" cy="114.8" r="1.35" fill="#c4c4c4" stroke="#404040" stroke-width="0.55"/>
<circle cx="324.5" cy="117.5" r="1.35" fill="#c4c4c4" stroke="#404040" stroke-width="0.55"/>
<circle cx="324.5" cy="120" r="1.35" fill="#c4c4c4" stroke="#404040" stroke-width="0.55"/>
<circle cx="324.5" cy="122.5" r="1.35" fill="#c4c4c4" stroke="#404040" stroke-width="0.55"/>
<circle cx="324.5" cy="125.5" r="1.35" fill="#c4c4c4" stroke="#404040" stroke-width="0.55"/>
<circle cx="324.5" cy="87.2" r="1.4" fill="#efefef" stroke="#555" stroke-width="0.55"/>
<circle cx="344.4" cy="108.4" r="1.35" fill="#a8103a" stroke="#2e0410" stroke-width="0.6"/>
<circle cx="344.4" cy="110.8" r="1.35" fill="#a8103a" stroke="#2e0410" stroke-width="0.6"/>
<circle cx="344.4" cy="113.5" r="1.35" fill="#a8103a" stroke="#2e0410" stroke-width="0.6"/>
<circle cx="344.4" cy="116.2" r="1.35" fill="#a8103a" stroke="#2e0410" stroke-width="0.6"/>
<circle cx="344.4" cy="118.2" r="1.35" fill="#a8103a" stroke="#2e0410" stroke-width="0.6"/>
<circle cx="344.4" cy="120.2" r="1.35" fill="#a8103a" stroke="#2e0410" stroke-width="0.6"/>
<circle cx="344.4" cy="122.9" r="1.35" fill="#a8103a" stroke="#2e0410" stroke-width="0.6"/>
<circle cx="344.4" cy="126.5" r="1.35" fill="#a8103a" stroke="#2e0410" stroke-width="0.6"/>
<circle cx="344.4" cy="131.3" r="1.35" fill="#a8103a" stroke="#2e0410" stroke-width="0.6"/>
<circle cx="344.4" cy="91.5" r="1.4" fill="#d05a78" stroke="#5a0a25" stroke-width="0.65"/>
<circle cx="344.4" cy="98" r="1.4" fill="#d05a78" stroke="#5a0a25" stroke-width="0.65"/>
<circle cx="364.4" cy="108" r="1.35" fill="#2c4a85" stroke="#0e1830" stroke-width="0.6"/>
<circle cx="364.4" cy="109.5" r="1.35" fill="#2c4a85" stroke="#0e1830" stroke-width="0.6"/>
<circle cx="364.4" cy="112.2" r="1.35" fill="#2c4a85" stroke="#0e1830" stroke-width="0.6"/>
<circle cx="364.4" cy="114.8" r="1.35" fill="#2c4a85" stroke="#0e1830" stroke-width="0.6"/>
<circle cx="364.4" cy="117.5" r="1.35" fill="#2c4a85" stroke="#0e1830" stroke-width="0.6"/>
<circle cx="364.4" cy="120.2" r="1.35" fill="#2c4a85" stroke="#0e1830" stroke-width="0.6"/>
<circle cx="364.4" cy="122.9" r="1.35" fill="#2c4a85" stroke="#0e1830" stroke-width="0.6"/>
<circle cx="364.4" cy="125.6" r="1.35" fill="#2c4a85" stroke="#0e1830" stroke-width="0.6"/>
<circle cx="364.4" cy="128.3" r="1.35" fill="#2c4a85" stroke="#0e1830" stroke-width="0.6"/>
<circle cx="364.4" cy="131" r="1.35" fill="#2c4a85" stroke="#0e1830" stroke-width="0.6"/>
<circle cx="364.4" cy="134.9" r="1.35" fill="#2c4a85" stroke="#0e1830" stroke-width="0.6"/>
<line x1="391.8" y1="82.7" x2="391.8" y2="98" stroke="#2a2a2a" stroke-width="0.9"/>
<line x1="391.8" y1="110.8" x2="391.8" y2="122.9" stroke="#2a2a2a" stroke-width="0.9"/>
<line x1="412" y1="67.6" x2="412" y2="91.2" stroke="#2a2a2a" stroke-width="0.9"/>
<line x1="412" y1="107.4" x2="412" y2="124.2" stroke="#2a2a2a" stroke-width="0.9"/>
<line x1="432" y1="78.5" x2="432" y2="101" stroke="#2a2a2a" stroke-width="0.9"/>
<line x1="432" y1="118.2" x2="432" y2="128.3" stroke="#2a2a2a" stroke-width="0.9"/>
<line x1="384.3" y1="103.5" x2="399.3" y2="103.5" stroke="#111" stroke-width="1.35"/>
<line x1="404.5" y1="98.6" x2="419.5" y2="98.6" stroke="#111" stroke-width="1.35"/>
<line x1="424.5" y1="109.7" x2="439.5" y2="109.7" stroke="#111" stroke-width="1.35"/>
<polyline points="391.8,82.7 412,67.6 432,78.5" fill="none" stroke="#7c7c7c" stroke-width="0.45" opacity="0.85"/>
<polyline points="391.8,91.5 412,83.4 432,92.2" fill="none" stroke="#7c7c7c" stroke-width="0.45" opacity="0.85"/>
<polyline points="391.8,93.5 412,91.5 432,100.5" fill="none" stroke="#7c7c7c" stroke-width="0.45" opacity="0.85"/>
<polyline points="391.8,98.9 412,95.8 432,98.2" fill="none" stroke="#7c7c7c" stroke-width="0.45" opacity="0.85"/>
<polyline points="391.8,101.6 412,94.2 432,108.1" fill="none" stroke="#7c7c7c" stroke-width="0.45" opacity="0.85"/>
<polyline points="391.8,103.6 412,98.6 432,103.8" fill="none" stroke="#7c7c7c" stroke-width="0.45" opacity="0.85"/>
<polyline points="391.8,105.6 412,102.5 432,110.8" fill="none" stroke="#7c7c7c" stroke-width="0.45" opacity="0.85"/>
<polyline points="391.8,105.6 412,102.5 432,110.8" fill="none" stroke="#7c7c7c" stroke-width="0.45" opacity="0.85"/>
<polyline points="391.8,111.4 412,105.1 432,119.5" fill="none" stroke="#7c7c7c" stroke-width="0.45" opacity="0.85"/>
<polyline points="391.8,113.5 412,106.5 432,116.8" fill="none" stroke="#7c7c7c" stroke-width="0.45" opacity="0.85"/>
<polyline points="391.8,118.2 412,112.1 432,121.5" fill="none" stroke="#7c7c7c" stroke-width="0.45" opacity="0.85"/>
<polyline points="391.8,120.2 412,122.2 432,126.2" fill="none" stroke="#7c7c7c" stroke-width="0.45" opacity="0.85"/>
<polyline points="391.8,122.9 412,124.2 432,128.3" fill="none" stroke="#7c7c7c" stroke-width="0.45" opacity="0.85"/>
<circle cx="391.8" cy="82.7" r="1.35" fill="#c4c4c4" stroke="#404040" stroke-width="0.55"/>
<circle cx="391.8" cy="91.5" r="1.35" fill="#c4c4c4" stroke="#404040" stroke-width="0.55"/>
<circle cx="391.8" cy="93.5" r="1.35" fill="#c4c4c4" stroke="#404040" stroke-width="0.55"/>
<circle cx="391.8" cy="98.9" r="1.35" fill="#c4c4c4" stroke="#404040" stroke-width="0.55"/>
<circle cx="391.8" cy="101.6" r="1.35" fill="#c4c4c4" stroke="#404040" stroke-width="0.55"/>
<circle cx="391.8" cy="103.6" r="1.35" fill="#c4c4c4" stroke="#404040" stroke-width="0.55"/>
<circle cx="391.8" cy="105.6" r="1.35" fill="#c4c4c4" stroke="#404040" stroke-width="0.55"/>
<circle cx="391.8" cy="111.4" r="1.35" fill="#c4c4c4" stroke="#404040" stroke-width="0.55"/>
<circle cx="391.8" cy="113.5" r="1.35" fill="#c4c4c4" stroke="#404040" stroke-width="0.55"/>
<circle cx="391.8" cy="118.2" r="1.35" fill="#c4c4c4" stroke="#404040" stroke-width="0.55"/>
<circle cx="391.8" cy="120.2" r="1.35" fill="#c4c4c4" stroke="#404040" stroke-width="0.55"/>
<circle cx="391.8" cy="122.9" r="1.35" fill="#c4c4c4" stroke="#404040" stroke-width="0.55"/>
<circle cx="412" cy="67.6" r="1.35" fill="#a8103a" stroke="#2e0410" stroke-width="0.6"/>
<circle cx="412" cy="83.4" r="1.35" fill="#a8103a" stroke="#2e0410" stroke-width="0.6"/>
<circle cx="412" cy="91.5" r="1.35" fill="#a8103a" stroke="#2e0410" stroke-width="0.6"/>
<circle cx="412" cy="94.2" r="1.35" fill="#a8103a" stroke="#2e0410" stroke-width="0.6"/>
<circle cx="412" cy="95.8" r="1.35" fill="#a8103a" stroke="#2e0410" stroke-width="0.6"/>
<circle cx="412" cy="98.6" r="1.35" fill="#a8103a" stroke="#2e0410" stroke-width="0.6"/>
<circle cx="412" cy="102.5" r="1.35" fill="#a8103a" stroke="#2e0410" stroke-width="0.6"/>
<circle cx="412" cy="105.1" r="1.35" fill="#a8103a" stroke="#2e0410" stroke-width="0.6"/>
<circle cx="412" cy="106.5" r="1.35" fill="#a8103a" stroke="#2e0410" stroke-width="0.6"/>
<circle cx="412" cy="112.1" r="1.35" fill="#a8103a" stroke="#2e0410" stroke-width="0.6"/>
<circle cx="412" cy="122.2" r="1.35" fill="#a8103a" stroke="#2e0410" stroke-width="0.6"/>
<circle cx="412" cy="124.2" r="1.35" fill="#a8103a" stroke="#2e0410" stroke-width="0.6"/>
<circle cx="432" cy="78.5" r="1.35" fill="#2c4a85" stroke="#0e1830" stroke-width="0.6"/>
<circle cx="432" cy="92.2" r="1.35" fill="#2c4a85" stroke="#0e1830" stroke-width="0.6"/>
<circle cx="432" cy="98.2" r="1.35" fill="#2c4a85" stroke="#0e1830" stroke-width="0.6"/>
<circle cx="432" cy="100.5" r="1.35" fill="#2c4a85" stroke="#0e1830" stroke-width="0.6"/>
<circle cx="432" cy="103.8" r="1.35" fill="#2c4a85" stroke="#0e1830" stroke-width="0.6"/>
<circle cx="432" cy="108.1" r="1.35" fill="#2c4a85" stroke="#0e1830" stroke-width="0.6"/>
<circle cx="432" cy="110.8" r="1.35" fill="#2c4a85" stroke="#0e1830" stroke-width="0.6"/>
<circle cx="432" cy="116.8" r="1.35" fill="#2c4a85" stroke="#0e1830" stroke-width="0.6"/>
<circle cx="432" cy="119.5" r="1.35" fill="#2c4a85" stroke="#0e1830" stroke-width="0.6"/>
<circle cx="432" cy="121.5" r="1.35" fill="#2c4a85" stroke="#0e1830" stroke-width="0.6"/>
<circle cx="432" cy="126.2" r="1.35" fill="#2c4a85" stroke="#0e1830" stroke-width="0.6"/>
<circle cx="432" cy="128.3" r="1.35" fill="#2c4a85" stroke="#0e1830" stroke-width="0.6"/>
<line x1="459.5" y1="84" x2="459.5" y2="95.7" stroke="#2a2a2a" stroke-width="0.9"/>
<line x1="459.5" y1="117.5" x2="459.5" y2="122.8" stroke="#2a2a2a" stroke-width="0.9"/>
<line x1="479.6" y1="80.9" x2="479.6" y2="94.1" stroke="#2a2a2a" stroke-width="0.9"/>
<line x1="479.6" y1="114.8" x2="479.6" y2="124.2" stroke="#2a2a2a" stroke-width="0.9"/>
<line x1="499.6" y1="84.5" x2="499.6" y2="101.9" stroke="#2a2a2a" stroke-width="0.9"/>
<line x1="499.6" y1="118.1" x2="499.6" y2="125.5" stroke="#2a2a2a" stroke-width="0.9"/>
<line x1="452" y1="101.5" x2="467" y2="101.5" stroke="#111" stroke-width="1.35"/>
<line x1="472.1" y1="104.9" x2="487.1" y2="104.9" stroke="#111" stroke-width="1.35"/>
<line x1="492.1" y1="112.2" x2="507.1" y2="112.2" stroke="#111" stroke-width="1.35"/>
<polyline points="459.5,84 479.6,80.9 499.6,84.5" fill="none" stroke="#7c7c7c" stroke-width="0.45" opacity="0.85"/>
<polyline points="459.5,85.8 479.6,91.4 499.6,92.1" fill="none" stroke="#7c7c7c" stroke-width="0.45" opacity="0.85"/>
<polyline points="459.5,88.1 479.6,83.3 499.6,102.9" fill="none" stroke="#7c7c7c" stroke-width="0.45" opacity="0.85"/>
<polyline points="459.5,89.8 479.6,87.7 499.6,97.9" fill="none" stroke="#7c7c7c" stroke-width="0.45" opacity="0.85"/>
<polyline points="459.5,94.8 479.6,95.5 499.6,108.2" fill="none" stroke="#7c7c7c" stroke-width="0.45" opacity="0.85"/>
<polyline points="459.5,96.5 479.6,98.8 499.6,105.5" fill="none" stroke="#7c7c7c" stroke-width="0.45" opacity="0.85"/>
<polyline points="459.5,98.2 479.6,101.5 499.6,110.3" fill="none" stroke="#7c7c7c" stroke-width="0.45" opacity="0.85"/>
<polyline points="459.5,102.9 479.6,103.5 499.6,112.2" fill="none" stroke="#7c7c7c" stroke-width="0.45" opacity="0.85"/>
<polyline points="459.5,108.1 479.6,110.2 499.6,115" fill="none" stroke="#7c7c7c" stroke-width="0.45" opacity="0.85"/>
<polyline points="459.5,114.2 479.6,116.8 499.6,113" fill="none" stroke="#7c7c7c" stroke-width="0.45" opacity="0.85"/>
<polyline points="459.5,117.5 479.6,107.6 499.6,121" fill="none" stroke="#7c7c7c" stroke-width="0.45" opacity="0.85"/>
<polyline points="459.5,120.8 479.6,122.2 499.6,118" fill="none" stroke="#7c7c7c" stroke-width="0.45" opacity="0.85"/>
<polyline points="459.5,122.8 479.6,124.2 499.6,125.5" fill="none" stroke="#7c7c7c" stroke-width="0.45" opacity="0.85"/>
<circle cx="459.5" cy="84" r="1.35" fill="#c4c4c4" stroke="#404040" stroke-width="0.55"/>
<circle cx="459.5" cy="85.8" r="1.35" fill="#c4c4c4" stroke="#404040" stroke-width="0.55"/>
<circle cx="459.5" cy="88.1" r="1.35" fill="#c4c4c4" stroke="#404040" stroke-width="0.55"/>
<circle cx="459.5" cy="89.8" r="1.35" fill="#c4c4c4" stroke="#404040" stroke-width="0.55"/>
<circle cx="459.5" cy="94.8" r="1.35" fill="#c4c4c4" stroke="#404040" stroke-width="0.55"/>
<circle cx="459.5" cy="96.5" r="1.35" fill="#c4c4c4" stroke="#404040" stroke-width="0.55"/>
<circle cx="459.5" cy="98.2" r="1.35" fill="#c4c4c4" stroke="#404040" stroke-width="0.55"/>
<circle cx="459.5" cy="100.2" r="1.35" fill="#c4c4c4" stroke="#404040" stroke-width="0.55"/>
<circle cx="459.5" cy="102.9" r="1.35" fill="#c4c4c4" stroke="#404040" stroke-width="0.55"/>
<circle cx="459.5" cy="108.1" r="1.35" fill="#c4c4c4" stroke="#404040" stroke-width="0.55"/>
<circle cx="459.5" cy="114.2" r="1.35" fill="#c4c4c4" stroke="#404040" stroke-width="0.55"/>
<circle cx="459.5" cy="117.5" r="1.35" fill="#c4c4c4" stroke="#404040" stroke-width="0.55"/>
<circle cx="459.5" cy="120.8" r="1.35" fill="#c4c4c4" stroke="#404040" stroke-width="0.55"/>
<circle cx="459.5" cy="122.8" r="1.35" fill="#c4c4c4" stroke="#404040" stroke-width="0.55"/>
<circle cx="479.6" cy="80.9" r="1.35" fill="#a8103a" stroke="#2e0410" stroke-width="0.6"/>
<circle cx="479.6" cy="83.3" r="1.35" fill="#a8103a" stroke="#2e0410" stroke-width="0.6"/>
<circle cx="479.6" cy="85.4" r="1.35" fill="#a8103a" stroke="#2e0410" stroke-width="0.6"/>
<circle cx="479.6" cy="87.7" r="1.35" fill="#a8103a" stroke="#2e0410" stroke-width="0.6"/>
<circle cx="479.6" cy="91.4" r="1.35" fill="#a8103a" stroke="#2e0410" stroke-width="0.6"/>
<circle cx="479.6" cy="95.5" r="1.35" fill="#a8103a" stroke="#2e0410" stroke-width="0.6"/>
<circle cx="479.6" cy="97.5" r="1.35" fill="#a8103a" stroke="#2e0410" stroke-width="0.6"/>
<circle cx="479.6" cy="98.8" r="1.35" fill="#a8103a" stroke="#2e0410" stroke-width="0.6"/>
<circle cx="479.6" cy="101.5" r="1.35" fill="#a8103a" stroke="#2e0410" stroke-width="0.6"/>
<circle cx="479.6" cy="103.5" r="1.35" fill="#a8103a" stroke="#2e0410" stroke-width="0.6"/>
<circle cx="479.6" cy="105.6" r="1.35" fill="#a8103a" stroke="#2e0410" stroke-width="0.6"/>
<circle cx="479.6" cy="107.6" r="1.35" fill="#a8103a" stroke="#2e0410" stroke-width="0.6"/>
<circle cx="479.6" cy="110.2" r="1.35" fill="#a8103a" stroke="#2e0410" stroke-width="0.6"/>
<circle cx="479.6" cy="116.8" r="1.35" fill="#a8103a" stroke="#2e0410" stroke-width="0.6"/>
<circle cx="479.6" cy="120.8" r="1.35" fill="#a8103a" stroke="#2e0410" stroke-width="0.6"/>
<circle cx="479.6" cy="122.2" r="1.35" fill="#a8103a" stroke="#2e0410" stroke-width="0.6"/>
<circle cx="479.6" cy="124.2" r="1.35" fill="#a8103a" stroke="#2e0410" stroke-width="0.6"/>
<circle cx="499.6" cy="84.5" r="1.35" fill="#2c4a85" stroke="#0e1830" stroke-width="0.6"/>
<circle cx="499.6" cy="92.1" r="1.35" fill="#2c4a85" stroke="#0e1830" stroke-width="0.6"/>
<circle cx="499.6" cy="97.9" r="1.35" fill="#2c4a85" stroke="#0e1830" stroke-width="0.6"/>
<circle cx="499.6" cy="102.9" r="1.35" fill="#2c4a85" stroke="#0e1830" stroke-width="0.6"/>
<circle cx="499.6" cy="105.5" r="1.35" fill="#2c4a85" stroke="#0e1830" stroke-width="0.6"/>
<circle cx="499.6" cy="108.2" r="1.35" fill="#2c4a85" stroke="#0e1830" stroke-width="0.6"/>
<circle cx="499.6" cy="110.3" r="1.35" fill="#2c4a85" stroke="#0e1830" stroke-width="0.6"/>
<circle cx="499.6" cy="112.2" r="1.35" fill="#2c4a85" stroke="#0e1830" stroke-width="0.6"/>
<circle cx="499.6" cy="113" r="1.35" fill="#2c4a85" stroke="#0e1830" stroke-width="0.6"/>
<circle cx="499.6" cy="115" r="1.35" fill="#2c4a85" stroke="#0e1830" stroke-width="0.6"/>
<circle cx="499.6" cy="118" r="1.35" fill="#2c4a85" stroke="#0e1830" stroke-width="0.6"/>
<circle cx="499.6" cy="121" r="1.35" fill="#2c4a85" stroke="#0e1830" stroke-width="0.6"/>
<circle cx="499.6" cy="125.5" r="1.35" fill="#2c4a85" stroke="#0e1830" stroke-width="0.6"/>
<line x1="80.4" y1="187.4" x2="80.4" y2="194.8" stroke="#2a2a2a" stroke-width="0.9"/>
<line x1="80.4" y1="207.4" x2="80.4" y2="211" stroke="#2a2a2a" stroke-width="0.9"/>
<line x1="101" y1="212.1" x2="101" y2="215.2" stroke="#2a2a2a" stroke-width="0.9"/>
<line x1="101" y1="226" x2="101" y2="232.3" stroke="#2a2a2a" stroke-width="0.9"/>
<line x1="52.9" y1="195.5" x2="67.9" y2="195.5" stroke="#111" stroke-width="1.35"/>
<line x1="72.9" y1="202.2" x2="87.9" y2="202.2" stroke="#111" stroke-width="1.35"/>
<line x1="93.5" y1="222.2" x2="108.5" y2="222.2" stroke="#111" stroke-width="1.35"/>
<polyline points="60.4,195.5 80.4,187.4 101,193.5" fill="none" stroke="#7c7c7c" stroke-width="0.45" opacity="0.85"/>
<polyline points="60.4,195.5 80.4,190.1 101,212.1" fill="none" stroke="#7c7c7c" stroke-width="0.45" opacity="0.85"/>
<polyline points="60.4,195.5 80.4,188.8 101,195.4" fill="none" stroke="#7c7c7c" stroke-width="0.45" opacity="0.85"/>
<polyline points="60.4,195.5 80.4,195.5 101,214.1" fill="none" stroke="#7c7c7c" stroke-width="0.45" opacity="0.85"/>
<polyline points="60.4,195.5 80.4,197.5 101,212.1" fill="none" stroke="#7c7c7c" stroke-width="0.45" opacity="0.85"/>
<polyline points="60.4,195.5 80.4,200.2 101,219.5" fill="none" stroke="#7c7c7c" stroke-width="0.45" opacity="0.85"/>
<polyline points="60.4,195.5 80.4,202.2 101,216.1" fill="none" stroke="#7c7c7c" stroke-width="0.45" opacity="0.85"/>
<polyline points="60.4,195.5 80.4,202.2 101,222.2" fill="none" stroke="#7c7c7c" stroke-width="0.45" opacity="0.85"/>
<polyline points="60.4,195.5 80.4,204.2 101,226.9" fill="none" stroke="#7c7c7c" stroke-width="0.45" opacity="0.85"/>
<polyline points="60.4,195.5 80.4,206.9 101,224.2" fill="none" stroke="#7c7c7c" stroke-width="0.45" opacity="0.85"/>
<polyline points="60.4,195.5 80.4,210.3 101,226.9" fill="none" stroke="#7c7c7c" stroke-width="0.45" opacity="0.85"/>
<polyline points="60.4,195.5 80.4,208.5 101,229.6" fill="none" stroke="#7c7c7c" stroke-width="0.45" opacity="0.85"/>
<polyline points="60.4,195.5 80.4,215.5 101,232.3" fill="none" stroke="#7c7c7c" stroke-width="0.45" opacity="0.85"/>
<circle cx="60.4" cy="195.5" r="1.5" fill="#f4f4f4" stroke="#222" stroke-width="0.6"/>
<circle cx="80.4" cy="187.4" r="1.35" fill="#a8103a" stroke="#2e0410" stroke-width="0.6"/>
<circle cx="80.4" cy="188.8" r="1.35" fill="#a8103a" stroke="#2e0410" stroke-width="0.6"/>
<circle cx="80.4" cy="190.1" r="1.35" fill="#a8103a" stroke="#2e0410" stroke-width="0.6"/>
<circle cx="80.4" cy="195.5" r="1.35" fill="#a8103a" stroke="#2e0410" stroke-width="0.6"/>
<circle cx="80.4" cy="197.5" r="1.35" fill="#a8103a" stroke="#2e0410" stroke-width="0.6"/>
<circle cx="80.4" cy="200.2" r="1.35" fill="#a8103a" stroke="#2e0410" stroke-width="0.6"/>
<circle cx="80.4" cy="202.2" r="1.35" fill="#a8103a" stroke="#2e0410" stroke-width="0.6"/>
<circle cx="80.4" cy="204.2" r="1.35" fill="#a8103a" stroke="#2e0410" stroke-width="0.6"/>
<circle cx="80.4" cy="206.9" r="1.35" fill="#a8103a" stroke="#2e0410" stroke-width="0.6"/>
<circle cx="80.4" cy="208.5" r="1.35" fill="#a8103a" stroke="#2e0410" stroke-width="0.6"/>
<circle cx="80.4" cy="210.3" r="1.35" fill="#a8103a" stroke="#2e0410" stroke-width="0.6"/>
<circle cx="80.4" cy="215.5" r="1.4" fill="#d05a78" stroke="#5a0a25" stroke-width="0.65"/>
<circle cx="101" cy="212.1" r="1.35" fill="#2c4a85" stroke="#0e1830" stroke-width="0.6"/>
<circle cx="101" cy="214.1" r="1.35" fill="#2c4a85" stroke="#0e1830" stroke-width="0.6"/>
<circle cx="101" cy="216.1" r="1.35" fill="#2c4a85" stroke="#0e1830" stroke-width="0.6"/>
<circle cx="101" cy="219.5" r="1.35" fill="#2c4a85" stroke="#0e1830" stroke-width="0.6"/>
<circle cx="101" cy="222.2" r="1.35" fill="#2c4a85" stroke="#0e1830" stroke-width="0.6"/>
<circle cx="101" cy="224.2" r="1.35" fill="#2c4a85" stroke="#0e1830" stroke-width="0.6"/>
<circle cx="101" cy="226.9" r="1.35" fill="#2c4a85" stroke="#0e1830" stroke-width="0.6"/>
<circle cx="101" cy="229.6" r="1.35" fill="#2c4a85" stroke="#0e1830" stroke-width="0.6"/>
<circle cx="101" cy="232.3" r="1.35" fill="#2c4a85" stroke="#0e1830" stroke-width="0.6"/>
<circle cx="101" cy="193.5" r="1.4" fill="#8298c6" stroke="#1a2a55" stroke-width="0.7"/>
<circle cx="101" cy="195.4" r="1.4" fill="#8298c6" stroke="#1a2a55" stroke-width="0.7"/>
<line x1="149.3" y1="192.1" x2="149.3" y2="193.5" stroke="#2a2a2a" stroke-width="0.9"/>
<line x1="149.3" y1="196.2" x2="149.3" y2="200.2" stroke="#2a2a2a" stroke-width="0.9"/>
<line x1="169.7" y1="180" x2="169.7" y2="198.2" stroke="#2a2a2a" stroke-width="0.9"/>
<line x1="169.7" y1="226.6" x2="169.7" y2="237.4" stroke="#2a2a2a" stroke-width="0.9"/>
<line x1="121.6" y1="195.5" x2="136.6" y2="195.5" stroke="#111" stroke-width="1.35"/>
<line x1="141.8" y1="195.3" x2="156.8" y2="195.3" stroke="#111" stroke-width="1.35"/>
<line x1="162.2" y1="202" x2="177.2" y2="202" stroke="#111" stroke-width="1.35"/>
<polyline points="129.1,195.5 149.3,179.6 169.7,180" fill="none" stroke="#7c7c7c" stroke-width="0.45" opacity="0.85"/>
<polyline points="129.1,195.5 149.3,178.3 169.7,195.5" fill="none" stroke="#7c7c7c" stroke-width="0.45" opacity="0.85"/>
<polyline points="129.1,195.5 149.3,179.6 169.7,197.9" fill="none" stroke="#7c7c7c" stroke-width="0.45" opacity="0.85"/>
<polyline points="129.1,195.5 149.3,192.1 169.7,200.2" fill="none" stroke="#7c7c7c" stroke-width="0.45" opacity="0.85"/>
<polyline points="129.1,195.5 149.3,192.1 169.7,197.9" fill="none" stroke="#7c7c7c" stroke-width="0.45" opacity="0.85"/>
<polyline points="129.1,195.5 149.3,194.2 169.7,202.2" fill="none" stroke="#7c7c7c" stroke-width="0.45" opacity="0.85"/>
<polyline points="129.1,195.5 149.3,195.5 169.7,203.6" fill="none" stroke="#7c7c7c" stroke-width="0.45" opacity="0.85"/>
<polyline points="129.1,195.5 149.3,195.5 169.7,225.3" fill="none" stroke="#7c7c7c" stroke-width="0.45" opacity="0.85"/>
<polyline points="129.1,195.5 149.3,199.5 169.7,204.7" fill="none" stroke="#7c7c7c" stroke-width="0.45" opacity="0.85"/>
<polyline points="129.1,195.5 149.3,200.2 169.7,228.9" fill="none" stroke="#7c7c7c" stroke-width="0.45" opacity="0.85"/>
<polyline points="129.1,195.5 149.3,199.5 169.7,236.3" fill="none" stroke="#7c7c7c" stroke-width="0.45" opacity="0.85"/>
<polyline points="129.1,195.5 149.3,207.4 169.7,228.9" fill="none" stroke="#7c7c7c" stroke-width="0.45" opacity="0.85"/>
<polyline points="129.1,195.5 149.3,200.2 169.7,237.4" fill="none" stroke="#7c7c7c" stroke-width="0.45" opacity="0.85"/>
<circle cx="129.1" cy="195.5" r="1.5" fill="#f4f4f4" stroke="#222" stroke-width="0.6"/>
<circle cx="149.3" cy="192.1" r="1.35" fill="#a8103a" stroke="#2e0410" stroke-width="0.6"/>
<circle cx="149.3" cy="194.2" r="1.35" fill="#a8103a" stroke="#2e0410" stroke-width="0.6"/>
<circle cx="149.3" cy="195.5" r="1.35" fill="#a8103a" stroke="#2e0410" stroke-width="0.6"/>
<circle cx="149.3" cy="199.5" r="1.35" fill="#a8103a" stroke="#2e0410" stroke-width="0.6"/>
<circle cx="149.3" cy="200.2" r="1.35" fill="#a8103a" stroke="#2e0410" stroke-width="0.6"/>
<circle cx="149.3" cy="178.3" r="1.4" fill="#d05a78" stroke="#5a0a25" stroke-width="0.65"/>
<circle cx="149.3" cy="179.6" r="1.4" fill="#d05a78" stroke="#5a0a25" stroke-width="0.65"/>
<circle cx="149.3" cy="207.4" r="1.4" fill="#d05a78" stroke="#5a0a25" stroke-width="0.65"/>
<circle cx="169.7" cy="180" r="1.35" fill="#2c4a85" stroke="#0e1830" stroke-width="0.6"/>
<circle cx="169.7" cy="195.5" r="1.35" fill="#2c4a85" stroke="#0e1830" stroke-width="0.6"/>
<circle cx="169.7" cy="197.9" r="1.35" fill="#2c4a85" stroke="#0e1830" stroke-width="0.6"/>
<circle cx="169.7" cy="200.2" r="1.35" fill="#2c4a85" stroke="#0e1830" stroke-width="0.6"/>
<circle cx="169.7" cy="202.2" r="1.35" fill="#2c4a85" stroke="#0e1830" stroke-width="0.6"/>
<circle cx="169.7" cy="203.6" r="1.35" fill="#2c4a85" stroke="#0e1830" stroke-width="0.6"/>
<circle cx="169.7" cy="204.7" r="1.35" fill="#2c4a85" stroke="#0e1830" stroke-width="0.6"/>
<circle cx="169.7" cy="225.3" r="1.35" fill="#2c4a85" stroke="#0e1830" stroke-width="0.6"/>
<circle cx="169.7" cy="228.9" r="1.35" fill="#2c4a85" stroke="#0e1830" stroke-width="0.6"/>
<circle cx="169.7" cy="236.3" r="1.35" fill="#2c4a85" stroke="#0e1830" stroke-width="0.6"/>
<circle cx="169.7" cy="237.4" r="1.35" fill="#2c4a85" stroke="#0e1830" stroke-width="0.6"/>
<line x1="218.3" y1="167.4" x2="218.3" y2="182.9" stroke="#2a2a2a" stroke-width="0.9"/>
<line x1="218.3" y1="202.8" x2="218.3" y2="217.6" stroke="#2a2a2a" stroke-width="0.9"/>
<line x1="238.9" y1="176.4" x2="238.9" y2="194.3" stroke="#2a2a2a" stroke-width="0.9"/>
<line x1="238.9" y1="199.7" x2="238.9" y2="206.2" stroke="#2a2a2a" stroke-width="0.9"/>
<line x1="190.6" y1="195.6" x2="205.6" y2="195.6" stroke="#111" stroke-width="1.35"/>
<line x1="210.8" y1="200.1" x2="225.8" y2="200.1" stroke="#111" stroke-width="1.35"/>
<line x1="231.4" y1="198.4" x2="246.4" y2="198.4" stroke="#111" stroke-width="1.35"/>
<polyline points="198.1,195.6 218.3,170.8 238.9,176.4" fill="none" stroke="#7c7c7c" stroke-width="0.45" opacity="0.85"/>
<polyline points="198.1,195.6 218.3,173.5 238.9,180.2" fill="none" stroke="#7c7c7c" stroke-width="0.45" opacity="0.85"/>
<polyline points="198.1,195.6 218.3,178.2 238.9,182.2" fill="none" stroke="#7c7c7c" stroke-width="0.45" opacity="0.85"/>
<polyline points="198.1,195.6 218.3,181.3 238.9,182.2" fill="none" stroke="#7c7c7c" stroke-width="0.45" opacity="0.85"/>
<polyline points="198.1,195.6 218.3,186.9 238.9,192.1" fill="none" stroke="#7c7c7c" stroke-width="0.45" opacity="0.85"/>
<polyline points="198.1,195.6 218.3,199.2 238.9,184" fill="none" stroke="#7c7c7c" stroke-width="0.45" opacity="0.85"/>
<polyline points="198.1,195.6 218.3,195.7 238.9,192.1" fill="none" stroke="#7c7c7c" stroke-width="0.45" opacity="0.85"/>
<polyline points="198.1,195.6 218.3,202.8 238.9,196.1" fill="none" stroke="#7c7c7c" stroke-width="0.45" opacity="0.85"/>
<polyline points="198.1,195.6 218.3,199.2 238.9,194.3" fill="none" stroke="#7c7c7c" stroke-width="0.45" opacity="0.85"/>
<polyline points="198.1,195.6 218.3,200.8 238.9,200.1" fill="none" stroke="#7c7c7c" stroke-width="0.45" opacity="0.85"/>
<polyline points="198.1,195.6 218.3,208.9 238.9,198.1" fill="none" stroke="#7c7c7c" stroke-width="0.45" opacity="0.85"/>
<polyline points="198.1,195.6 218.3,210.9 238.9,200.1" fill="none" stroke="#7c7c7c" stroke-width="0.45" opacity="0.85"/>
<polyline points="198.1,195.6 218.3,217.6 238.9,206.2" fill="none" stroke="#7c7c7c" stroke-width="0.45" opacity="0.85"/>
<circle cx="198.1" cy="195.6" r="1.5" fill="#f4f4f4" stroke="#222" stroke-width="0.6"/>
<circle cx="218.3" cy="170.8" r="1.35" fill="#a8103a" stroke="#2e0410" stroke-width="0.6"/>
<circle cx="218.3" cy="173.5" r="1.35" fill="#a8103a" stroke="#2e0410" stroke-width="0.6"/>
<circle cx="218.3" cy="178.2" r="1.35" fill="#a8103a" stroke="#2e0410" stroke-width="0.6"/>
<circle cx="218.3" cy="181.3" r="1.35" fill="#a8103a" stroke="#2e0410" stroke-width="0.6"/>
<circle cx="218.3" cy="186.9" r="1.35" fill="#a8103a" stroke="#2e0410" stroke-width="0.6"/>
<circle cx="218.3" cy="195.7" r="1.35" fill="#a8103a" stroke="#2e0410" stroke-width="0.6"/>
<circle cx="218.3" cy="199.2" r="1.35" fill="#a8103a" stroke="#2e0410" stroke-width="0.6"/>
<circle cx="218.3" cy="200.8" r="1.35" fill="#a8103a" stroke="#2e0410" stroke-width="0.6"/>
<circle cx="218.3" cy="202.8" r="1.35" fill="#a8103a" stroke="#2e0410" stroke-width="0.6"/>
<circle cx="218.3" cy="208.9" r="1.35" fill="#a8103a" stroke="#2e0410" stroke-width="0.6"/>
<circle cx="218.3" cy="210.9" r="1.35" fill="#a8103a" stroke="#2e0410" stroke-width="0.6"/>
<circle cx="218.3" cy="217.6" r="1.35" fill="#a8103a" stroke="#2e0410" stroke-width="0.6"/>
<circle cx="238.9" cy="180.2" r="1.35" fill="#2c4a85" stroke="#0e1830" stroke-width="0.6"/>
<circle cx="238.9" cy="182.2" r="1.35" fill="#2c4a85" stroke="#0e1830" stroke-width="0.6"/>
<circle cx="238.9" cy="184" r="1.35" fill="#2c4a85" stroke="#0e1830" stroke-width="0.6"/>
<circle cx="238.9" cy="192.1" r="1.35" fill="#2c4a85" stroke="#0e1830" stroke-width="0.6"/>
<circle cx="238.9" cy="194.3" r="1.35" fill="#2c4a85" stroke="#0e1830" stroke-width="0.6"/>
<circle cx="238.9" cy="196.1" r="1.35" fill="#2c4a85" stroke="#0e1830" stroke-width="0.6"/>
<circle cx="238.9" cy="198.1" r="1.35" fill="#2c4a85" stroke="#0e1830" stroke-width="0.6"/>
<circle cx="238.9" cy="200.1" r="1.35" fill="#2c4a85" stroke="#0e1830" stroke-width="0.6"/>
<circle cx="238.9" cy="206.2" r="1.35" fill="#2c4a85" stroke="#0e1830" stroke-width="0.6"/>
<circle cx="238.9" cy="176.4" r="1.4" fill="#8298c6" stroke="#1a2a55" stroke-width="0.7"/>
<line x1="344" y1="205.5" x2="344" y2="211.2" stroke="#2a2a2a" stroke-width="0.9"/>
<line x1="344" y1="218.8" x2="344" y2="221.9" stroke="#2a2a2a" stroke-width="0.9"/>
<line x1="364.3" y1="207.3" x2="364.3" y2="216.6" stroke="#2a2a2a" stroke-width="0.9"/>
<line x1="364.3" y1="228.2" x2="364.3" y2="237.6" stroke="#2a2a2a" stroke-width="0.9"/>
<line x1="316.6" y1="199.5" x2="331.6" y2="199.5" stroke="#111" stroke-width="1.35"/>
<line x1="336.5" y1="215" x2="351.5" y2="215" stroke="#111" stroke-width="1.35"/>
<line x1="356.8" y1="221.9" x2="371.8" y2="221.9" stroke="#111" stroke-width="1.35"/>
<polyline points="324.1,199.5 344,197 364.3,207.3" fill="none" stroke="#7c7c7c" stroke-width="0.45" opacity="0.85"/>
<polyline points="324.1,199.5 344,205.5 364.3,211.4" fill="none" stroke="#7c7c7c" stroke-width="0.45" opacity="0.85"/>
<polyline points="324.1,199.5 344,210.9 364.3,209.6" fill="none" stroke="#7c7c7c" stroke-width="0.45" opacity="0.85"/>
<polyline points="324.1,199.5 344,207.5 364.3,211.4" fill="none" stroke="#7c7c7c" stroke-width="0.45" opacity="0.85"/>
<polyline points="324.1,199.5 344,207.5 364.3,216.8" fill="none" stroke="#7c7c7c" stroke-width="0.45" opacity="0.85"/>
<polyline points="324.1,199.5 344,212.9 364.3,214.3" fill="none" stroke="#7c7c7c" stroke-width="0.45" opacity="0.85"/>
<polyline points="324.1,199.5 344,212.9 364.3,219.5" fill="none" stroke="#7c7c7c" stroke-width="0.45" opacity="0.85"/>
<polyline points="324.1,199.5 344,214.9 364.3,221.9" fill="none" stroke="#7c7c7c" stroke-width="0.45" opacity="0.85"/>
<polyline points="324.1,199.5 344,217 364.3,227.5" fill="none" stroke="#7c7c7c" stroke-width="0.45" opacity="0.85"/>
<polyline points="324.1,199.5 344,218.3 364.3,224.8" fill="none" stroke="#7c7c7c" stroke-width="0.45" opacity="0.85"/>
<polyline points="324.1,199.5 344,220 364.3,227.5" fill="none" stroke="#7c7c7c" stroke-width="0.45" opacity="0.85"/>
<polyline points="324.1,199.5 344,221.9 364.3,230.9" fill="none" stroke="#7c7c7c" stroke-width="0.45" opacity="0.85"/>
<polyline points="324.1,199.5 344,220 364.3,237.6" fill="none" stroke="#7c7c7c" stroke-width="0.45" opacity="0.85"/>
<circle cx="324.1" cy="199.5" r="1.5" fill="#f4f4f4" stroke="#222" stroke-width="0.6"/>
<circle cx="344" cy="205.5" r="1.35" fill="#a8103a" stroke="#2e0410" stroke-width="0.6"/>
<circle cx="344" cy="207.5" r="1.35" fill="#a8103a" stroke="#2e0410" stroke-width="0.6"/>
<circle cx="344" cy="210.9" r="1.35" fill="#a8103a" stroke="#2e0410" stroke-width="0.6"/>
<circle cx="344" cy="212.9" r="1.35" fill="#a8103a" stroke="#2e0410" stroke-width="0.6"/>
<circle cx="344" cy="214.9" r="1.35" fill="#a8103a" stroke="#2e0410" stroke-width="0.6"/>
<circle cx="344" cy="217" r="1.35" fill="#a8103a" stroke="#2e0410" stroke-width="0.6"/>
<circle cx="344" cy="218.3" r="1.35" fill="#a8103a" stroke="#2e0410" stroke-width="0.6"/>
<circle cx="344" cy="220" r="1.35" fill="#a8103a" stroke="#2e0410" stroke-width="0.6"/>
<circle cx="344" cy="221.9" r="1.35" fill="#a8103a" stroke="#2e0410" stroke-width="0.6"/>
<circle cx="344" cy="197" r="1.4" fill="#d05a78" stroke="#5a0a25" stroke-width="0.65"/>
<circle cx="364.3" cy="207.3" r="1.35" fill="#2c4a85" stroke="#0e1830" stroke-width="0.6"/>
<circle cx="364.3" cy="209.6" r="1.35" fill="#2c4a85" stroke="#0e1830" stroke-width="0.6"/>
<circle cx="364.3" cy="211.4" r="1.35" fill="#2c4a85" stroke="#0e1830" stroke-width="0.6"/>
<circle cx="364.3" cy="214.3" r="1.35" fill="#2c4a85" stroke="#0e1830" stroke-width="0.6"/>
<circle cx="364.3" cy="216.8" r="1.35" fill="#2c4a85" stroke="#0e1830" stroke-width="0.6"/>
<circle cx="364.3" cy="219.5" r="1.35" fill="#2c4a85" stroke="#0e1830" stroke-width="0.6"/>
<circle cx="364.3" cy="221.9" r="1.35" fill="#2c4a85" stroke="#0e1830" stroke-width="0.6"/>
<circle cx="364.3" cy="224.8" r="1.35" fill="#2c4a85" stroke="#0e1830" stroke-width="0.6"/>
<circle cx="364.3" cy="227.5" r="1.35" fill="#2c4a85" stroke="#0e1830" stroke-width="0.6"/>
<circle cx="364.3" cy="230.9" r="1.35" fill="#2c4a85" stroke="#0e1830" stroke-width="0.6"/>
<circle cx="364.3" cy="237.6" r="1.35" fill="#2c4a85" stroke="#0e1830" stroke-width="0.6"/>
<line x1="411.7" y1="170.6" x2="411.7" y2="182.1" stroke="#2a2a2a" stroke-width="0.9"/>
<line x1="411.7" y1="196.9" x2="411.7" y2="205" stroke="#2a2a2a" stroke-width="0.9"/>
<line x1="431.8" y1="193.5" x2="431.8" y2="199.7" stroke="#2a2a2a" stroke-width="0.9"/>
<line x1="431.8" y1="212.2" x2="431.8" y2="220.2" stroke="#2a2a2a" stroke-width="0.9"/>
<line x1="384.3" y1="199.6" x2="399.3" y2="199.6" stroke="#111" stroke-width="1.35"/>
<line x1="404.2" y1="192.2" x2="419.2" y2="192.2" stroke="#111" stroke-width="1.35"/>
<line x1="424.3" y1="209.7" x2="439.3" y2="209.7" stroke="#111" stroke-width="1.35"/>
<polyline points="391.8,199.6 411.7,170.6 431.8,193.5" fill="none" stroke="#7c7c7c" stroke-width="0.45" opacity="0.85"/>
<polyline points="391.8,199.6 411.7,172.7 431.8,195.6" fill="none" stroke="#7c7c7c" stroke-width="0.45" opacity="0.85"/>
<polyline points="391.8,199.6 411.7,177.5 431.8,195.6" fill="none" stroke="#7c7c7c" stroke-width="0.45" opacity="0.85"/>
<polyline points="391.8,199.6 411.7,179.4 431.8,197.6" fill="none" stroke="#7c7c7c" stroke-width="0.45" opacity="0.85"/>
<polyline points="391.8,199.6 411.7,183.4 431.8,199.6" fill="none" stroke="#7c7c7c" stroke-width="0.45" opacity="0.85"/>
<polyline points="391.8,199.6 411.7,189.5 431.8,199.6" fill="none" stroke="#7c7c7c" stroke-width="0.45" opacity="0.85"/>
<polyline points="391.8,199.6 411.7,188.2 431.8,208.8" fill="none" stroke="#7c7c7c" stroke-width="0.45" opacity="0.85"/>
<polyline points="391.8,199.6 411.7,189.5 431.8,210.8" fill="none" stroke="#7c7c7c" stroke-width="0.45" opacity="0.85"/>
<polyline points="391.8,199.6 411.7,192.2 431.8,210.8" fill="none" stroke="#7c7c7c" stroke-width="0.45" opacity="0.85"/>
<polyline points="391.8,199.6 411.7,194.9 431.8,214.8" fill="none" stroke="#7c7c7c" stroke-width="0.45" opacity="0.85"/>
<polyline points="391.8,199.6 411.7,196.9 431.8,212.8" fill="none" stroke="#7c7c7c" stroke-width="0.45" opacity="0.85"/>
<polyline points="391.8,199.6 411.7,205 431.8,214.8" fill="none" stroke="#7c7c7c" stroke-width="0.45" opacity="0.85"/>
<polyline points="391.8,199.6 411.7,199.6 431.8,220.2" fill="none" stroke="#7c7c7c" stroke-width="0.45" opacity="0.85"/>
<circle cx="391.8" cy="199.6" r="1.5" fill="#f4f4f4" stroke="#222" stroke-width="0.6"/>
<circle cx="411.7" cy="170.6" r="1.35" fill="#a8103a" stroke="#2e0410" stroke-width="0.6"/>
<circle cx="411.7" cy="172.7" r="1.35" fill="#a8103a" stroke="#2e0410" stroke-width="0.6"/>
<circle cx="411.7" cy="177.5" r="1.35" fill="#a8103a" stroke="#2e0410" stroke-width="0.6"/>
<circle cx="411.7" cy="179.4" r="1.35" fill="#a8103a" stroke="#2e0410" stroke-width="0.6"/>
<circle cx="411.7" cy="183.4" r="1.35" fill="#a8103a" stroke="#2e0410" stroke-width="0.6"/>
<circle cx="411.7" cy="188.2" r="1.35" fill="#a8103a" stroke="#2e0410" stroke-width="0.6"/>
<circle cx="411.7" cy="189.5" r="1.35" fill="#a8103a" stroke="#2e0410" stroke-width="0.6"/>
<circle cx="411.7" cy="192.2" r="1.35" fill="#a8103a" stroke="#2e0410" stroke-width="0.6"/>
<circle cx="411.7" cy="194.9" r="1.35" fill="#a8103a" stroke="#2e0410" stroke-width="0.6"/>
<circle cx="411.7" cy="196.9" r="1.35" fill="#a8103a" stroke="#2e0410" stroke-width="0.6"/>
<circle cx="411.7" cy="199.6" r="1.35" fill="#a8103a" stroke="#2e0410" stroke-width="0.6"/>
<circle cx="411.7" cy="205" r="1.35" fill="#a8103a" stroke="#2e0410" stroke-width="0.6"/>
<circle cx="431.8" cy="193.5" r="1.35" fill="#2c4a85" stroke="#0e1830" stroke-width="0.6"/>
<circle cx="431.8" cy="195.6" r="1.35" fill="#2c4a85" stroke="#0e1830" stroke-width="0.6"/>
<circle cx="431.8" cy="197.6" r="1.35" fill="#2c4a85" stroke="#0e1830" stroke-width="0.6"/>
<circle cx="431.8" cy="199.6" r="1.35" fill="#2c4a85" stroke="#0e1830" stroke-width="0.6"/>
<circle cx="431.8" cy="208.8" r="1.35" fill="#2c4a85" stroke="#0e1830" stroke-width="0.6"/>
<circle cx="431.8" cy="210.8" r="1.35" fill="#2c4a85" stroke="#0e1830" stroke-width="0.6"/>
<circle cx="431.8" cy="212.8" r="1.35" fill="#2c4a85" stroke="#0e1830" stroke-width="0.6"/>
<circle cx="431.8" cy="214.8" r="1.35" fill="#2c4a85" stroke="#0e1830" stroke-width="0.6"/>
<circle cx="431.8" cy="220.2" r="1.35" fill="#2c4a85" stroke="#0e1830" stroke-width="0.6"/>
<line x1="479.4" y1="167.8" x2="479.4" y2="186" stroke="#2a2a2a" stroke-width="0.9"/>
<line x1="479.4" y1="212.3" x2="479.4" y2="213.6" stroke="#2a2a2a" stroke-width="0.9"/>
<line x1="499.6" y1="172.4" x2="499.6" y2="198.8" stroke="#2a2a2a" stroke-width="0.9"/>
<line x1="499.6" y1="215.4" x2="499.6" y2="223.5" stroke="#2a2a2a" stroke-width="0.9"/>
<line x1="452" y1="199.5" x2="467" y2="199.5" stroke="#111" stroke-width="1.35"/>
<line x1="471.9" y1="195.9" x2="486.9" y2="195.9" stroke="#111" stroke-width="1.35"/>
<line x1="492.1" y1="206.9" x2="507.1" y2="206.9" stroke="#111" stroke-width="1.35"/>
<polyline points="459.5,199.5 479.4,170.8 499.6,190.5" fill="none" stroke="#7c7c7c" stroke-width="0.45" opacity="0.85"/>
<polyline points="459.5,199.5 479.4,176.9 499.6,172.4" fill="none" stroke="#7c7c7c" stroke-width="0.45" opacity="0.85"/>
<polyline points="459.5,199.5 479.4,182.9 499.6,199.2" fill="none" stroke="#7c7c7c" stroke-width="0.45" opacity="0.85"/>
<polyline points="459.5,199.5 479.4,182.9 499.6,195.5" fill="none" stroke="#7c7c7c" stroke-width="0.45" opacity="0.85"/>
<polyline points="459.5,199.5 479.4,184.3 499.6,201.1" fill="none" stroke="#7c7c7c" stroke-width="0.45" opacity="0.85"/>
<polyline points="459.5,199.5 479.4,195.5 499.6,203.5" fill="none" stroke="#7c7c7c" stroke-width="0.45" opacity="0.85"/>
<polyline points="459.5,199.5 479.4,188.1 499.6,211.5" fill="none" stroke="#7c7c7c" stroke-width="0.45" opacity="0.85"/>
<polyline points="459.5,199.5 479.4,192.8 499.6,206.9" fill="none" stroke="#7c7c7c" stroke-width="0.45" opacity="0.85"/>
<polyline points="459.5,199.5 479.4,199.2 499.6,208.7" fill="none" stroke="#7c7c7c" stroke-width="0.45" opacity="0.85"/>
<polyline points="459.5,199.5 479.4,196.5 499.6,214.5" fill="none" stroke="#7c7c7c" stroke-width="0.45" opacity="0.85"/>
<polyline points="459.5,199.5 479.4,199.2 499.6,217.4" fill="none" stroke="#7c7c7c" stroke-width="0.45" opacity="0.85"/>
<polyline points="459.5,199.5 479.4,212.3 499.6,220.1" fill="none" stroke="#7c7c7c" stroke-width="0.45" opacity="0.85"/>
<polyline points="459.5,199.5 479.4,213.6 499.6,223.5" fill="none" stroke="#7c7c7c" stroke-width="0.45" opacity="0.85"/>
<circle cx="459.5" cy="199.5" r="1.5" fill="#f4f4f4" stroke="#222" stroke-width="0.6"/>
<circle cx="479.4" cy="170.8" r="1.35" fill="#a8103a" stroke="#2e0410" stroke-width="0.6"/>
<circle cx="479.4" cy="176.9" r="1.35" fill="#a8103a" stroke="#2e0410" stroke-width="0.6"/>
<circle cx="479.4" cy="182.9" r="1.35" fill="#a8103a" stroke="#2e0410" stroke-width="0.6"/>
<circle cx="479.4" cy="184.3" r="1.35" fill="#a8103a" stroke="#2e0410" stroke-width="0.6"/>
<circle cx="479.4" cy="188.1" r="1.35" fill="#a8103a" stroke="#2e0410" stroke-width="0.6"/>
<circle cx="479.4" cy="192.8" r="1.35" fill="#a8103a" stroke="#2e0410" stroke-width="0.6"/>
<circle cx="479.4" cy="195.5" r="1.35" fill="#a8103a" stroke="#2e0410" stroke-width="0.6"/>
<circle cx="479.4" cy="196.5" r="1.35" fill="#a8103a" stroke="#2e0410" stroke-width="0.6"/>
<circle cx="479.4" cy="199.2" r="1.35" fill="#a8103a" stroke="#2e0410" stroke-width="0.6"/>
<circle cx="479.4" cy="212.3" r="1.35" fill="#a8103a" stroke="#2e0410" stroke-width="0.6"/>
<circle cx="479.4" cy="213.6" r="1.35" fill="#a8103a" stroke="#2e0410" stroke-width="0.6"/>
<circle cx="499.6" cy="172.4" r="1.35" fill="#2c4a85" stroke="#0e1830" stroke-width="0.6"/>
<circle cx="499.6" cy="190.5" r="1.35" fill="#2c4a85" stroke="#0e1830" stroke-width="0.6"/>
<circle cx="499.6" cy="195.5" r="1.35" fill="#2c4a85" stroke="#0e1830" stroke-width="0.6"/>
<circle cx="499.6" cy="199.2" r="1.35" fill="#2c4a85" stroke="#0e1830" stroke-width="0.6"/>
<circle cx="499.6" cy="201.1" r="1.35" fill="#2c4a85" stroke="#0e1830" stroke-width="0.6"/>
<circle cx="499.6" cy="203.5" r="1.35" fill="#2c4a85" stroke="#0e1830" stroke-width="0.6"/>
<circle cx="499.6" cy="206.9" r="1.35" fill="#2c4a85" stroke="#0e1830" stroke-width="0.6"/>
<circle cx="499.6" cy="208.7" r="1.35" fill="#2c4a85" stroke="#0e1830" stroke-width="0.6"/>
<circle cx="499.6" cy="211.5" r="1.35" fill="#2c4a85" stroke="#0e1830" stroke-width="0.6"/>
<circle cx="499.6" cy="214.5" r="1.35" fill="#2c4a85" stroke="#0e1830" stroke-width="0.6"/>
<circle cx="499.6" cy="217.4" r="1.35" fill="#2c4a85" stroke="#0e1830" stroke-width="0.6"/>
<circle cx="499.6" cy="220.1" r="1.35" fill="#2c4a85" stroke="#0e1830" stroke-width="0.6"/>
<circle cx="499.6" cy="223.5" r="1.35" fill="#2c4a85" stroke="#0e1830" stroke-width="0.6"/>
<polyline points="59.6,81 59.6,79 100.5,79 100.5,81" fill="none" stroke="#111" stroke-width="0.95"/>
<ellipse cx="80" cy="74.7" rx="1.05" ry="0.85" fill="#1a1a1a"/>
<polyline points="324.3,85.2 324.3,83.2 364.6,83.2 364.6,85.2" fill="none" stroke="#111" stroke-width="0.95"/>
<ellipse cx="344.4" cy="81.2" rx="1.05" ry="0.85" fill="#1a1a1a"/>
<polyline points="80.3,168.6 80.3,166.6 101.2,166.6 101.2,168.6" fill="none" stroke="#111" stroke-width="0.95"/>
<ellipse cx="90.8" cy="162.5" rx="1.05" ry="0.85" fill="#1a1a1a"/>
<polyline points="60.4,176.5 60.4,174.5 101.2,174.5 101.2,176.5" fill="none" stroke="#111" stroke-width="0.95"/>
<ellipse cx="80.6" cy="170.6" rx="1.05" ry="0.85" fill="#1a1a1a"/>
<polyline points="60.4,184.7 60.4,182.7 80.6,182.7 80.6,184.7" fill="none" stroke="#111" stroke-width="0.95"/>
<ellipse cx="70.6" cy="178.5" rx="1.05" ry="0.85" fill="#1a1a1a"/>
<polyline points="149.3,166.1 149.3,164.1 169.9,164.1 169.9,166.1" fill="none" stroke="#111" stroke-width="0.95"/>
<ellipse cx="159.8" cy="160.1" rx="1.05" ry="0.85" fill="#1a1a1a"/>
<polyline points="129.1,174.2 129.1,172.2 169.9,172.2 169.9,174.2" fill="none" stroke="#111" stroke-width="0.95"/>
<ellipse cx="149.7" cy="168.2" rx="1.05" ry="0.85" fill="#1a1a1a"/>
<polyline points="344,175.9 344,173.9 364.6,173.9 364.6,175.9" fill="none" stroke="#111" stroke-width="0.95"/>
<ellipse cx="354.1" cy="169.7" rx="1.05" ry="0.85" fill="#1a1a1a"/>
<polyline points="324.2,183.5 324.2,181.5 364.6,181.5 364.6,183.5" fill="none" stroke="#111" stroke-width="0.95"/>
<ellipse cx="344" cy="178.8" rx="1.05" ry="0.85" fill="#1a1a1a"/>
<polyline points="324.2,192.1 324.2,190.1 344,190.1 344,192.1" fill="none" stroke="#111" stroke-width="0.95"/>
<ellipse cx="334.1" cy="185.8" rx="1.05" ry="0.85" fill="#1a1a1a"/>
<polyline points="411.7,154.1 411.7,152.1 431.9,152.1 431.9,154.1" fill="none" stroke="#111" stroke-width="0.95"/>
<ellipse cx="421.7" cy="148.7" rx="1.05" ry="0.85" fill="#1a1a1a"/>
<polyline points="391.8,161.9 391.8,159.9 431.9,159.9 431.9,161.9" fill="none" stroke="#111" stroke-width="0.95"/>
<ellipse cx="411.7" cy="156.8" rx="1.05" ry="0.85" fill="#1a1a1a"/>
<polyline points="391.8,169.3 391.8,167.3 411.7,167.3 411.7,169.3" fill="none" stroke="#111" stroke-width="0.95"/>
<ellipse cx="401.9" cy="163.2" rx="1.05" ry="0.85" fill="#1a1a1a"/>
<text x="238.7" y="78.3" font-size="9.4" text-anchor="middle" font-family="Liberation Serif, serif" fill="#2a2a2a">a</text>
<text x="412.3" y="62.1" font-size="9.4" text-anchor="middle" font-family="Liberation Serif, serif" fill="#2a2a2a">a</text>
<text x="432.3" y="72.8" font-size="9.4" text-anchor="middle" font-family="Liberation Serif, serif" fill="#2a2a2a">a</text>
<text x="479.9" y="72.7" font-size="9.4" text-anchor="middle" font-family="Liberation Serif, serif" fill="#2a2a2a">a</text>
<text x="499.9" y="78.1" font-size="9.4" text-anchor="middle" font-family="Liberation Serif, serif" fill="#2a2a2a">a</text>
<text x="239.2" y="170.6" font-size="9.4" text-anchor="middle" font-family="Liberation Serif, serif" fill="#2a2a2a">a</text>
<text x="412" y="166.1" font-size="9.4" text-anchor="middle" font-family="Liberation Serif, serif" fill="#2a2a2a">a</text>
<text x="431.8" y="189.8" font-size="9.4" text-anchor="middle" font-family="Liberation Serif, serif" fill="#2a2a2a">a</text>
<text x="479.7" y="163" font-size="9.4" text-anchor="middle" font-family="Liberation Serif, serif" fill="#2a2a2a">a</text>
<text x="499.9" y="167.3" font-size="9.4" text-anchor="middle" font-family="Liberation Serif, serif" fill="#2a2a2a">a</text>
<rect x="47.6" y="43.6" width="203.2" height="95.4" fill="none" stroke="#1e1e1e" stroke-width="1.35"/>
<line x1="114.5" y1="43.6" x2="114.5" y2="139" stroke="#1e1e1e" stroke-width="1.35"/>
<line x1="184" y1="43.6" x2="184" y2="139" stroke="#1e1e1e" stroke-width="1.35"/>
<rect x="48.4" y="147" width="202.4" height="95" fill="none" stroke="#1e1e1e" stroke-width="1.35"/>
<line x1="114.5" y1="147" x2="114.5" y2="242" stroke="#1e1e1e" stroke-width="1.35"/>
<line x1="184" y1="147" x2="184" y2="242" stroke="#1e1e1e" stroke-width="1.35"/>
<rect x="312.5" y="43.5" width="199" height="95.3" fill="none" stroke="#1e1e1e" stroke-width="1.35"/>
<line x1="377.5" y1="43.5" x2="377.5" y2="138.8" stroke="#1e1e1e" stroke-width="1.35"/>
<line x1="446.5" y1="43.5" x2="446.5" y2="138.8" stroke="#1e1e1e" stroke-width="1.35"/>
<rect x="312.5" y="146.8" width="199" height="94.8" fill="none" stroke="#1e1e1e" stroke-width="1.35"/>
<line x1="377.5" y1="146.8" x2="377.5" y2="241.6" stroke="#1e1e1e" stroke-width="1.35"/>
<line x1="446.5" y1="146.8" x2="446.5" y2="241.6" stroke="#1e1e1e" stroke-width="1.35"/>
<rect x="0.5" y="0.5" width="519" height="263" fill="none" stroke="#000" stroke-width="1"/>
</svg>
</body></html>
